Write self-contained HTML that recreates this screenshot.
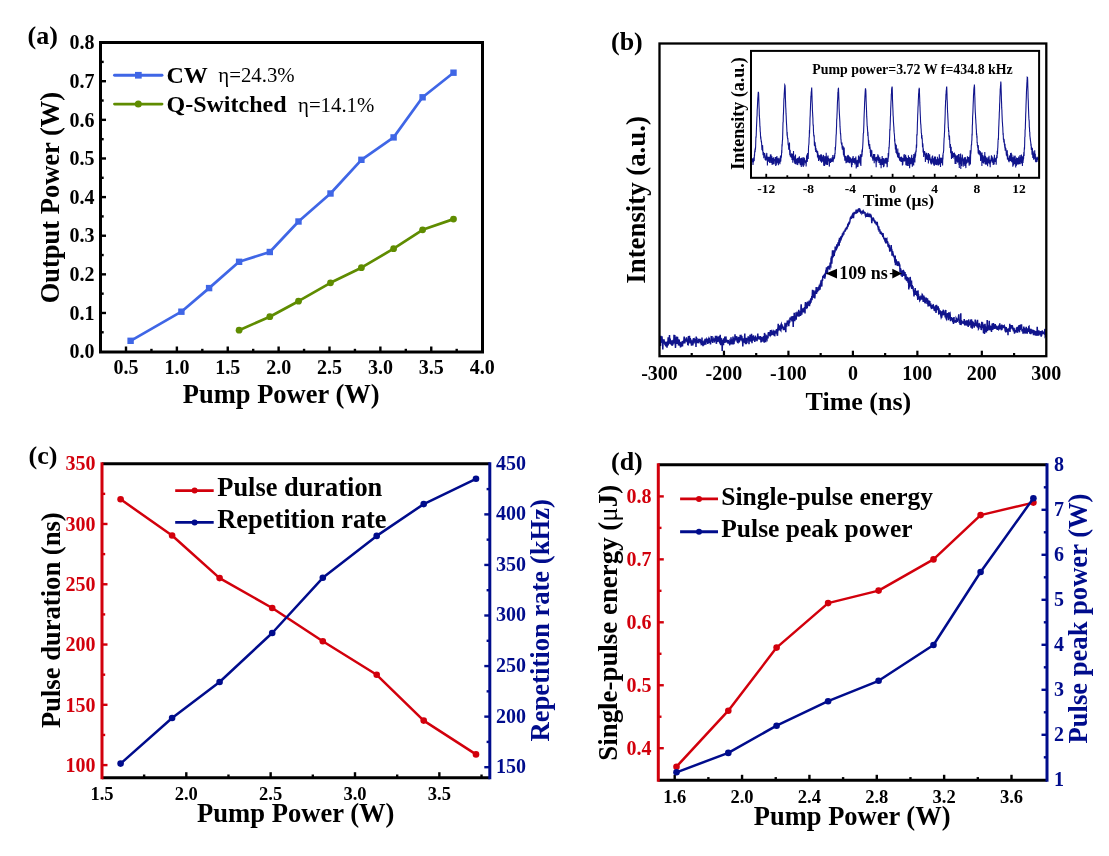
<!DOCTYPE html>
<html><head><meta charset="utf-8"><style>
html,body{margin:0;padding:0;background:#fff;}
body{width:1109px;height:856px;overflow:hidden;}
svg{display:block;font-family:"Liberation Serif", serif;filter:blur(0.45px);}
</style></head><body>
<svg width="1109" height="856" viewBox="0 0 1109 856">
<rect width="1109" height="856" fill="#fff"/>
<line x1="126.0" y1="352.0" x2="126.0" y2="346.5" stroke="#000" stroke-width="2.4"/>
<line x1="151.4375" y1="352.0" x2="151.4375" y2="348.8" stroke="#000" stroke-width="2.4"/>
<line x1="176.875" y1="352.0" x2="176.875" y2="346.5" stroke="#000" stroke-width="2.4"/>
<line x1="202.3125" y1="352.0" x2="202.3125" y2="348.8" stroke="#000" stroke-width="2.4"/>
<line x1="227.75" y1="352.0" x2="227.75" y2="346.5" stroke="#000" stroke-width="2.4"/>
<line x1="253.1875" y1="352.0" x2="253.1875" y2="348.8" stroke="#000" stroke-width="2.4"/>
<line x1="278.625" y1="352.0" x2="278.625" y2="346.5" stroke="#000" stroke-width="2.4"/>
<line x1="304.0625" y1="352.0" x2="304.0625" y2="348.8" stroke="#000" stroke-width="2.4"/>
<line x1="329.5" y1="352.0" x2="329.5" y2="346.5" stroke="#000" stroke-width="2.4"/>
<line x1="354.9375" y1="352.0" x2="354.9375" y2="348.8" stroke="#000" stroke-width="2.4"/>
<line x1="380.375" y1="352.0" x2="380.375" y2="346.5" stroke="#000" stroke-width="2.4"/>
<line x1="405.8125" y1="352.0" x2="405.8125" y2="348.8" stroke="#000" stroke-width="2.4"/>
<line x1="431.25" y1="352.0" x2="431.25" y2="346.5" stroke="#000" stroke-width="2.4"/>
<line x1="456.6875" y1="352.0" x2="456.6875" y2="348.8" stroke="#000" stroke-width="2.4"/>
<line x1="100.5" y1="332.2875" x2="103.7" y2="332.2875" stroke="#000" stroke-width="2.4"/>
<line x1="100.5" y1="312.975" x2="106.0" y2="312.975" stroke="#000" stroke-width="2.4"/>
<line x1="100.5" y1="293.6625" x2="103.7" y2="293.6625" stroke="#000" stroke-width="2.4"/>
<line x1="100.5" y1="274.35" x2="106.0" y2="274.35" stroke="#000" stroke-width="2.4"/>
<line x1="100.5" y1="255.03750000000002" x2="103.7" y2="255.03750000000002" stroke="#000" stroke-width="2.4"/>
<line x1="100.5" y1="235.72500000000002" x2="106.0" y2="235.72500000000002" stroke="#000" stroke-width="2.4"/>
<line x1="100.5" y1="216.41250000000002" x2="103.7" y2="216.41250000000002" stroke="#000" stroke-width="2.4"/>
<line x1="100.5" y1="197.10000000000002" x2="106.0" y2="197.10000000000002" stroke="#000" stroke-width="2.4"/>
<line x1="100.5" y1="177.78750000000002" x2="103.7" y2="177.78750000000002" stroke="#000" stroke-width="2.4"/>
<line x1="100.5" y1="158.47500000000002" x2="106.0" y2="158.47500000000002" stroke="#000" stroke-width="2.4"/>
<line x1="100.5" y1="139.1625" x2="103.7" y2="139.1625" stroke="#000" stroke-width="2.4"/>
<line x1="100.5" y1="119.85" x2="106.0" y2="119.85" stroke="#000" stroke-width="2.4"/>
<line x1="100.5" y1="100.53750000000002" x2="103.7" y2="100.53750000000002" stroke="#000" stroke-width="2.4"/>
<line x1="100.5" y1="81.22500000000002" x2="106.0" y2="81.22500000000002" stroke="#000" stroke-width="2.4"/>
<line x1="100.5" y1="61.91250000000002" x2="103.7" y2="61.91250000000002" stroke="#000" stroke-width="2.4"/>
<rect x="100.5" y="42.5" width="382.0" height="309.5" fill="none" stroke="#000" stroke-width="3"/>
<text x="126.0" y="374.3" font-size="20" font-weight="bold" fill="#000" text-anchor="middle">0.5</text>
<text x="176.875" y="374.3" font-size="20" font-weight="bold" fill="#000" text-anchor="middle">1.0</text>
<text x="227.75" y="374.3" font-size="20" font-weight="bold" fill="#000" text-anchor="middle">1.5</text>
<text x="278.625" y="374.3" font-size="20" font-weight="bold" fill="#000" text-anchor="middle">2.0</text>
<text x="329.5" y="374.3" font-size="20" font-weight="bold" fill="#000" text-anchor="middle">2.5</text>
<text x="380.375" y="374.3" font-size="20" font-weight="bold" fill="#000" text-anchor="middle">3.0</text>
<text x="431.25" y="374.3" font-size="20" font-weight="bold" fill="#000" text-anchor="middle">3.5</text>
<text x="482.125" y="374.3" font-size="20" font-weight="bold" fill="#000" text-anchor="middle">4.0</text>
<text x="94.5" y="358.3" font-size="20" font-weight="bold" fill="#000" text-anchor="end">0.0</text>
<text x="94.5" y="319.675" font-size="20" font-weight="bold" fill="#000" text-anchor="end">0.1</text>
<text x="94.5" y="281.05" font-size="20" font-weight="bold" fill="#000" text-anchor="end">0.2</text>
<text x="94.5" y="242.425" font-size="20" font-weight="bold" fill="#000" text-anchor="end">0.3</text>
<text x="94.5" y="203.8" font-size="20" font-weight="bold" fill="#000" text-anchor="end">0.4</text>
<text x="94.5" y="165.175" font-size="20" font-weight="bold" fill="#000" text-anchor="end">0.5</text>
<text x="94.5" y="126.55" font-size="20" font-weight="bold" fill="#000" text-anchor="end">0.6</text>
<text x="94.5" y="87.92500000000003" font-size="20" font-weight="bold" fill="#000" text-anchor="end">0.7</text>
<text x="94.5" y="49.300000000000026" font-size="20" font-weight="bold" fill="#000" text-anchor="end">0.8</text>
<polyline points="130.6,340.8 181.4,311.7 209.1,288.1 239.1,261.8 269.8,252.0 298.5,221.5 330.5,193.5 361.4,159.8 393.6,137.4 422.6,97.3 453.5,72.7" fill="none" stroke="#3f66e6" stroke-width="2.7" stroke-linejoin="round" stroke-linecap="round"/>
<rect x="127.4" y="337.6" width="6.4" height="6.4" fill="#3f66e6"/>
<rect x="178.2" y="308.5" width="6.4" height="6.4" fill="#3f66e6"/>
<rect x="205.9" y="284.9" width="6.4" height="6.4" fill="#3f66e6"/>
<rect x="235.9" y="258.6" width="6.4" height="6.4" fill="#3f66e6"/>
<rect x="266.6" y="248.8" width="6.4" height="6.4" fill="#3f66e6"/>
<rect x="295.3" y="218.3" width="6.4" height="6.4" fill="#3f66e6"/>
<rect x="327.3" y="190.3" width="6.4" height="6.4" fill="#3f66e6"/>
<rect x="358.2" y="156.6" width="6.4" height="6.4" fill="#3f66e6"/>
<rect x="390.4" y="134.2" width="6.4" height="6.4" fill="#3f66e6"/>
<rect x="419.4" y="94.1" width="6.4" height="6.4" fill="#3f66e6"/>
<rect x="450.3" y="69.5" width="6.4" height="6.4" fill="#3f66e6"/>
<polyline points="239.1,330.2 269.8,316.7 298.5,301.2 330.5,282.8 361.4,267.7 393.6,248.7 422.6,229.8 453.5,219.1" fill="none" stroke="#5f8c00" stroke-width="2.7" stroke-linejoin="round" stroke-linecap="round"/>
<circle cx="239.1" cy="330.2" r="3.4" fill="#5f8c00"/>
<circle cx="269.8" cy="316.7" r="3.4" fill="#5f8c00"/>
<circle cx="298.5" cy="301.2" r="3.4" fill="#5f8c00"/>
<circle cx="330.5" cy="282.8" r="3.4" fill="#5f8c00"/>
<circle cx="361.4" cy="267.7" r="3.4" fill="#5f8c00"/>
<circle cx="393.6" cy="248.7" r="3.4" fill="#5f8c00"/>
<circle cx="422.6" cy="229.8" r="3.4" fill="#5f8c00"/>
<circle cx="453.5" cy="219.1" r="3.4" fill="#5f8c00"/>
<line x1="114.5" y1="75.2" x2="162.0" y2="75.2" stroke="#3f66e6" stroke-width="2.9" stroke-linecap="round"/>
<rect x="135.0" y="71.9" width="6.7" height="6.7" fill="#3f66e6"/>
<line x1="114.5" y1="104.1" x2="162.0" y2="104.1" stroke="#5f8c00" stroke-width="2.9" stroke-linecap="round"/>
<circle cx="138.3" cy="104.1" r="3.5" fill="#5f8c00"/>
<text x="166.5" y="82.5" font-size="24" font-weight="bold" fill="#000" text-anchor="start">CW</text>
<text x="218.3" y="82.4" font-size="20.8" font-weight="normal" fill="#000" text-anchor="start">η=24.3%</text>
<text x="166.5" y="111.5" font-size="24" font-weight="bold" fill="#000" text-anchor="start">Q-Switched</text>
<text x="298.0" y="111.6" font-size="20.8" font-weight="normal" fill="#000" text-anchor="start">η=14.1%</text>
<text x="281.2" y="402.6" font-size="26.5" font-weight="bold" fill="#000" text-anchor="middle">Pump Power (W)</text>
<text x="59.5" y="197.6" font-size="26.5" font-weight="bold" fill="#000" text-anchor="middle" transform="rotate(-90 59.5 197.6)">Output Power (W)</text>
<text x="27.5" y="44.0" font-size="26" font-weight="bold" fill="#000" text-anchor="start">(a)</text>
<line x1="691.7249999999999" y1="356.2" x2="691.7249999999999" y2="353.0" stroke="#000" stroke-width="2.2"/>
<line x1="723.96" y1="356.2" x2="723.96" y2="350.7" stroke="#000" stroke-width="2.2"/>
<line x1="756.1949999999999" y1="356.2" x2="756.1949999999999" y2="353.0" stroke="#000" stroke-width="2.2"/>
<line x1="788.43" y1="356.2" x2="788.43" y2="350.7" stroke="#000" stroke-width="2.2"/>
<line x1="820.665" y1="356.2" x2="820.665" y2="353.0" stroke="#000" stroke-width="2.2"/>
<line x1="852.9" y1="356.2" x2="852.9" y2="350.7" stroke="#000" stroke-width="2.2"/>
<line x1="885.135" y1="356.2" x2="885.135" y2="353.0" stroke="#000" stroke-width="2.2"/>
<line x1="917.37" y1="356.2" x2="917.37" y2="350.7" stroke="#000" stroke-width="2.2"/>
<line x1="949.605" y1="356.2" x2="949.605" y2="353.0" stroke="#000" stroke-width="2.2"/>
<line x1="981.8399999999999" y1="356.2" x2="981.8399999999999" y2="350.7" stroke="#000" stroke-width="2.2"/>
<line x1="1014.075" y1="356.2" x2="1014.075" y2="353.0" stroke="#000" stroke-width="2.2"/>
<path d="M660.5,346.1L660.8,335.8L661.0,342.9L661.2,340.3L661.5,340.5L661.8,340.6L662.0,336.4L662.2,341.3L662.5,340.1L662.8,349.6L663.0,342.3L663.2,341.0L663.5,341.6L663.8,340.3L664.0,339.3L664.2,341.3L664.5,343.5L664.8,342.4L665.0,345.2L665.2,342.4L665.5,342.7L665.8,346.4L666.0,344.0L666.2,342.0L666.5,342.7L666.8,344.6L667.0,347.6L667.2,341.9L667.5,341.8L667.8,344.7L668.0,340.2L668.2,337.3L668.5,343.9L668.8,343.4L669.0,342.4L669.2,343.4L669.5,335.1L669.8,343.6L670.0,340.0L670.2,338.6L670.5,343.3L670.8,344.2L671.0,341.3L671.2,340.3L671.5,342.9L671.8,342.4L672.0,345.8L672.2,344.2L672.5,343.2L672.8,345.1L673.0,341.2L673.2,339.8L673.5,343.0L673.8,342.6L674.0,334.7L674.2,339.4L674.5,341.3L674.8,334.9L675.0,342.2L675.2,341.9L675.5,347.9L675.8,341.0L676.0,338.8L676.2,339.9L676.5,336.6L676.8,339.0L677.0,343.1L677.2,343.6L677.5,336.7L677.8,340.7L678.0,342.6L678.2,340.5L678.5,345.4L678.8,339.3L679.0,342.8L679.2,339.9L679.5,345.6L679.8,342.8L680.0,342.4L680.2,341.8L680.5,347.4L680.8,345.2L681.0,345.5L681.2,346.6L681.5,345.2L681.8,342.6L682.0,342.0L682.2,341.3L682.5,346.5L682.8,341.8L683.0,341.4L683.2,341.2L683.5,342.7L683.8,343.5L684.0,338.2L684.2,336.6L684.5,340.3L684.8,343.5L685.0,342.0L685.2,340.6L685.5,339.1L685.8,340.2L686.0,338.7L686.2,341.4L686.5,337.4L686.8,339.4L687.0,342.2L687.2,340.9L687.5,340.1L687.8,345.1L688.0,343.5L688.2,343.8L688.5,336.0L688.8,339.9L689.0,339.3L689.2,342.4L689.5,335.9L689.8,340.4L690.0,343.5L690.2,338.1L690.5,339.4L690.8,339.8L691.0,341.6L691.2,342.7L691.5,345.7L691.8,340.3L692.0,342.3L692.2,340.6L692.5,343.9L692.8,345.4L693.0,343.8L693.2,338.6L693.5,339.8L693.8,338.2L694.0,343.5L694.2,341.6L694.5,339.4L694.8,339.9L695.0,342.1L695.2,339.5L695.5,339.4L695.8,342.5L696.0,347.0L696.2,336.5L696.5,339.9L696.8,338.9L697.0,338.8L697.2,341.4L697.5,343.2L697.8,341.1L698.0,342.3L698.2,341.6L698.5,342.0L698.8,338.7L699.0,340.6L699.2,342.2L699.5,340.3L699.8,340.7L700.0,339.0L700.2,340.5L700.5,343.4L700.8,340.8L701.0,341.2L701.2,343.4L701.5,342.9L701.8,345.2L702.0,337.4L702.2,344.1L702.5,341.1L702.8,342.6L703.0,346.1L703.2,344.6L703.5,344.6L703.8,341.9L704.0,345.3L704.2,340.8L704.5,340.7L704.8,342.4L705.0,338.7L705.2,344.7L705.5,341.7L705.8,344.7L706.0,339.8L706.2,339.3L706.5,340.7L706.8,342.2L707.0,338.6L707.2,342.5L707.5,340.2L707.8,344.0L708.0,339.0L708.2,343.2L708.5,339.3L708.8,338.5L709.0,339.2L709.2,337.9L709.5,340.5L709.8,342.8L710.0,341.0L710.2,342.2L710.5,344.4L710.8,341.4L711.0,341.2L711.2,336.7L711.5,336.8L711.8,341.7L712.0,336.0L712.2,341.6L712.5,340.3L712.8,343.0L713.0,340.5L713.2,338.7L713.5,340.8L713.8,339.2L714.0,339.8L714.2,340.5L714.5,341.2L714.8,340.3L715.0,338.3L715.2,340.3L715.5,335.9L715.8,340.1L716.0,338.0L716.2,342.9L716.5,343.6L716.8,335.9L717.0,340.9L717.2,340.4L717.5,338.6L717.8,341.9L718.0,340.1L718.2,336.7L718.5,340.0L718.8,340.8L719.0,340.9L719.2,336.0L719.5,342.1L719.8,342.7L720.0,339.0L720.2,334.9L720.5,340.9L720.8,341.1L721.0,345.2L721.2,341.8L721.5,338.9L721.8,339.1L722.0,341.0L722.2,350.9L722.5,341.2L722.8,341.2L723.0,341.2L723.2,340.1L723.5,345.1L723.8,338.3L724.0,341.1L724.2,340.0L724.5,340.9L724.8,336.5L725.0,342.9L725.2,338.7L725.5,338.7L725.8,336.6L726.0,337.2L726.2,340.2L726.5,341.4L726.8,341.1L727.0,342.5L727.2,340.7L727.5,339.8L727.8,342.1L728.0,341.8L728.2,340.2L728.5,342.4L728.8,343.6L729.0,341.6L729.2,340.8L729.5,343.1L729.8,345.3L730.0,340.8L730.2,341.1L730.5,341.1L730.8,344.1L731.0,337.3L731.2,342.2L731.5,343.9L731.8,339.3L732.0,344.4L732.2,341.6L732.5,339.4L732.8,341.1L733.0,336.6L733.2,339.3L733.5,344.4L733.8,338.0L734.0,343.9L734.2,339.3L734.5,341.7L734.8,339.6L735.0,334.3L735.2,338.4L735.5,339.8L735.8,336.8L736.0,336.8L736.2,340.3L736.5,338.0L736.8,336.2L737.0,338.4L737.2,342.1L737.5,339.3L737.8,342.4L738.0,342.5L738.2,340.4L738.5,337.8L738.8,337.1L739.0,339.9L739.2,342.2L739.5,341.0L739.8,340.7L740.0,338.9L740.2,334.8L740.5,338.9L740.8,339.7L741.0,337.2L741.2,336.8L741.5,340.5L741.8,338.0L742.0,337.7L742.2,341.5L742.5,339.7L742.8,346.5L743.0,341.8L743.2,338.4L743.5,341.8L743.8,340.8L744.0,338.6L744.2,342.6L744.5,338.5L744.8,333.5L745.0,343.0L745.2,339.6L745.5,344.3L745.8,339.4L746.0,337.7L746.2,344.1L746.5,337.9L746.8,340.7L747.0,343.3L747.2,339.9L747.5,339.7L747.8,339.2L748.0,340.4L748.2,336.2L748.5,339.5L748.8,340.2L749.0,344.2L749.2,338.0L749.5,337.0L749.8,340.3L750.0,334.9L750.2,339.5L750.5,339.0L750.8,341.5L751.0,337.4L751.2,341.7L751.5,333.8L751.8,337.1L752.0,343.1L752.2,337.6L752.5,337.2L752.8,340.6L753.0,340.1L753.2,338.9L753.5,335.2L753.8,339.7L754.0,338.9L754.2,339.8L754.5,336.7L754.8,341.9L755.0,339.0L755.2,337.8L755.5,336.9L755.8,337.5L756.0,339.8L756.2,337.5L756.5,340.8L756.8,339.6L757.0,341.1L757.2,339.5L757.5,337.3L757.8,333.6L758.0,337.9L758.2,336.6L758.5,338.1L758.8,339.3L759.0,337.2L759.2,337.3L759.5,336.4L759.8,338.8L760.0,339.4L760.2,337.8L760.5,336.2L760.8,338.1L761.0,342.4L761.2,339.7L761.5,337.0L761.8,341.7L762.0,341.2L762.2,340.4L762.5,339.3L762.8,340.2L763.0,338.9L763.2,339.6L763.5,336.0L763.8,341.6L764.0,338.3L764.2,342.7L764.5,332.9L764.8,338.8L765.0,339.4L765.2,336.3L765.5,338.2L765.8,342.1L766.0,338.5L766.2,335.8L766.5,336.3L766.8,338.8L767.0,339.2L767.2,336.2L767.5,336.2L767.8,336.5L768.0,338.4L768.2,333.3L768.5,332.3L768.8,335.3L769.0,332.1L769.2,333.3L769.5,334.9L769.8,335.3L770.0,331.9L770.2,336.3L770.5,330.0L770.8,335.2L771.0,330.4L771.2,331.1L771.5,335.3L771.8,332.9L772.0,331.9L772.2,332.5L772.5,334.6L772.8,333.4L773.0,332.9L773.2,335.0L773.5,331.3L773.8,331.8L774.0,331.6L774.2,335.4L774.5,335.5L774.8,335.6L775.0,332.3L775.2,332.0L775.5,333.8L775.8,330.7L776.0,333.6L776.2,333.0L776.5,329.1L776.8,330.0L777.0,329.8L777.2,334.9L777.5,335.7L777.8,329.3L778.0,329.5L778.2,323.8L778.5,329.6L778.8,328.8L779.0,326.4L779.2,330.5L779.5,325.2L779.8,328.3L780.0,329.0L780.2,325.3L780.5,330.1L780.8,330.5L781.0,324.6L781.2,324.2L781.5,329.0L781.8,327.5L782.0,324.2L782.2,326.8L782.5,326.3L782.8,326.4L783.0,327.9L783.2,327.2L783.5,330.1L783.8,329.3L784.0,327.7L784.2,328.3L784.5,328.7L784.8,327.5L785.0,322.7L785.2,327.4L785.5,324.7L785.8,332.2L786.0,324.2L786.2,324.8L786.5,324.1L786.8,326.6L787.0,323.0L787.2,322.0L787.5,322.5L787.8,320.7L788.0,322.3L788.2,321.7L788.5,322.9L788.8,326.3L789.0,320.8L789.2,323.3L789.5,320.7L789.8,322.5L790.0,317.5L790.2,318.7L790.5,320.0L790.8,318.2L791.0,319.0L791.2,317.6L791.5,316.3L791.8,319.4L792.0,321.5L792.2,318.9L792.5,318.2L792.8,319.2L793.0,316.1L793.2,326.9L793.5,317.4L793.8,318.7L794.0,321.2L794.2,312.8L794.5,320.6L794.8,320.6L795.0,316.7L795.2,318.0L795.5,317.2L795.8,317.8L796.0,312.3L796.2,319.7L796.5,314.4L796.8,315.6L797.0,314.8L797.2,313.5L797.5,314.3L797.8,316.5L798.0,312.7L798.2,313.3L798.5,312.6L798.8,309.8L799.0,316.8L799.2,314.7L799.5,313.7L799.8,315.8L800.0,311.3L800.2,312.6L800.5,316.0L800.8,314.1L801.0,306.6L801.2,304.4L801.5,310.2L801.8,314.8L802.0,310.8L802.2,310.8L802.5,312.0L802.8,308.4L803.0,310.8L803.2,312.3L803.5,310.9L803.8,310.2L804.0,308.0L804.2,310.1L804.5,307.2L804.8,310.7L805.0,313.5L805.2,305.6L805.5,302.1L805.8,305.3L806.0,306.3L806.2,307.6L806.5,307.9L806.8,303.6L807.0,302.9L807.2,308.1L807.5,301.5L807.8,306.2L808.0,302.9L808.2,304.7L808.5,304.6L808.8,304.6L809.0,302.9L809.2,300.5L809.5,306.2L809.8,302.0L810.0,304.1L810.2,303.5L810.5,299.8L810.8,298.6L811.0,302.8L811.2,298.1L811.5,299.8L811.8,296.1L812.0,300.2L812.2,297.7L812.5,289.9L812.8,292.7L813.0,296.4L813.2,296.6L813.5,290.4L813.8,296.4L814.0,297.8L814.2,294.3L814.5,294.4L814.8,298.5L815.0,295.5L815.2,290.5L815.5,292.4L815.8,292.1L816.0,291.7L816.2,287.0L816.5,294.0L816.8,290.6L817.0,291.4L817.2,290.5L817.5,292.2L817.8,289.0L818.0,287.1L818.2,289.5L818.5,290.7L818.8,286.5L819.0,290.1L819.2,287.0L819.5,284.7L819.8,288.7L820.0,289.6L820.2,286.9L820.5,282.7L820.8,284.5L821.0,280.3L821.2,281.0L821.5,284.9L821.8,286.5L822.0,281.1L822.2,279.4L822.5,280.9L822.8,276.5L823.0,276.3L823.2,278.0L823.5,276.2L823.8,275.7L824.0,276.4L824.2,275.3L824.5,274.8L824.8,278.6L825.0,276.5L825.2,276.3L825.5,273.0L825.8,271.6L826.0,269.8L826.2,271.8L826.5,267.4L826.8,270.1L827.0,272.8L827.2,274.1L827.5,271.6L827.8,266.3L828.0,269.4L828.2,266.5L828.5,269.1L828.8,266.1L829.0,267.6L829.2,265.6L829.5,266.3L829.8,269.6L830.0,265.2L830.2,262.6L830.5,265.5L830.8,266.0L831.0,260.1L831.2,260.4L831.5,256.3L831.8,263.6L832.0,260.0L832.2,257.3L832.5,250.3L832.8,252.9L833.0,256.1L833.2,256.5L833.5,256.0L833.8,254.4L834.0,250.3L834.2,255.9L834.5,252.1L834.8,251.6L835.0,252.5L835.2,246.5L835.5,250.0L835.8,249.2L836.0,249.4L836.2,250.3L836.5,248.2L836.8,244.2L837.0,246.7L837.2,247.2L837.5,246.4L837.8,246.1L838.0,242.2L838.2,245.1L838.5,243.9L838.8,243.0L839.0,239.9L839.2,245.7L839.5,237.8L839.8,240.5L840.0,242.6L840.2,239.5L840.5,239.5L840.8,236.8L841.0,240.4L841.2,236.0L841.5,238.0L841.8,237.4L842.0,235.2L842.2,237.0L842.5,233.3L842.8,234.3L843.0,234.6L843.2,233.5L843.5,234.0L843.8,234.0L844.0,231.9L844.2,231.2L844.5,231.0L844.8,230.8L845.0,231.7L845.2,230.1L845.5,230.4L845.8,229.4L846.0,228.1L846.2,229.6L846.5,227.0L846.8,228.0L847.0,229.3L847.2,226.2L847.5,227.0L847.8,224.2L848.0,224.7L848.2,223.3L848.5,224.2L848.8,223.0L849.0,223.3L849.2,224.5L849.5,222.7L849.8,222.1L850.0,220.5L850.2,219.0L850.5,217.7L850.8,216.6L851.0,218.1L851.2,219.0L851.5,216.5L851.8,216.6L852.0,218.2L852.2,215.5L852.5,214.6L852.8,213.8L853.0,213.5L853.2,214.8L853.5,218.1L853.8,214.3L854.0,213.4L854.2,213.4L854.5,213.5L854.8,211.9L855.0,212.7L855.2,213.1L855.5,212.8L855.8,212.9L856.0,210.9L856.2,209.7L856.5,212.9L856.8,212.7L857.0,209.5L857.2,211.4L857.5,210.9L857.8,211.5L858.0,210.9L858.2,210.2L858.5,211.0L858.8,210.9L859.0,211.0L859.2,209.4L859.5,208.3L859.8,210.6L860.0,209.4L860.2,211.1L860.5,212.2L860.8,211.6L861.0,211.4L861.2,211.6L861.5,213.1L861.8,211.5L862.0,213.3L862.2,213.0L862.5,212.2L862.8,213.7L863.0,211.8L863.2,213.3L863.5,211.5L863.8,212.1L864.0,211.6L864.2,213.4L864.5,211.9L864.8,212.9L865.0,212.0L865.2,214.8L865.5,215.6L865.8,213.7L866.0,215.7L866.2,215.4L866.5,216.8L866.8,215.5L867.0,213.3L867.2,216.8L867.5,214.7L867.8,214.0L868.0,214.7L868.2,213.9L868.5,215.6L868.8,214.3L869.0,217.0L869.2,216.4L869.5,214.4L869.8,214.6L870.0,215.7L870.2,214.3L870.5,216.6L870.8,216.5L871.0,215.5L871.2,216.0L871.5,217.6L871.8,223.3L872.0,219.7L872.2,218.0L872.5,219.1L872.8,217.7L873.0,219.2L873.2,218.3L873.5,220.6L873.8,219.4L874.0,220.0L874.2,221.1L874.5,221.7L874.8,220.3L875.0,221.2L875.2,222.4L875.5,222.8L875.8,221.6L876.0,223.2L876.2,223.1L876.5,225.2L876.8,224.2L877.0,222.7L877.2,221.9L877.5,225.1L877.8,226.5L878.0,226.5L878.2,228.0L878.5,227.4L878.8,227.3L879.0,230.1L879.2,229.8L879.5,230.9L879.8,229.4L880.0,231.8L880.2,233.3L880.5,233.4L880.8,232.3L881.0,232.1L881.2,232.4L881.5,234.7L881.8,233.4L882.0,232.7L882.2,235.2L882.5,233.5L882.8,237.0L883.0,233.1L883.2,234.8L883.5,237.4L883.8,238.5L884.0,237.6L884.2,239.1L884.5,239.3L884.8,240.5L885.0,239.5L885.2,242.1L885.5,237.9L885.8,243.4L886.0,239.6L886.2,243.0L886.5,239.4L886.8,239.0L887.0,242.7L887.2,241.0L887.5,243.7L887.8,241.6L888.0,246.8L888.2,244.6L888.5,245.9L888.8,245.4L889.0,247.4L889.2,245.0L889.5,248.5L889.8,251.6L890.0,250.4L890.2,249.3L890.5,248.8L890.8,251.2L891.0,247.6L891.2,245.0L891.5,250.1L891.8,250.0L892.0,255.7L892.2,253.4L892.5,251.6L892.8,251.9L893.0,255.3L893.2,253.6L893.5,256.6L893.8,255.6L894.0,256.6L894.2,257.3L894.5,257.9L894.8,260.9L895.0,262.6L895.2,255.6L895.5,265.3L895.8,260.4L896.0,263.8L896.2,259.2L896.5,262.8L896.8,262.8L897.0,263.2L897.2,265.1L897.5,265.2L897.8,261.4L898.0,263.8L898.2,265.7L898.5,261.3L898.8,264.3L899.0,265.1L899.2,266.1L899.5,264.4L899.8,265.2L900.0,272.3L900.2,268.2L900.5,269.8L900.8,268.6L901.0,273.9L901.2,275.7L901.5,271.3L901.8,273.2L902.0,270.6L902.2,276.9L902.5,271.0L902.8,270.9L903.0,275.8L903.2,274.2L903.5,273.8L903.8,274.2L904.0,271.8L904.2,272.2L904.5,275.5L904.8,274.3L905.0,272.1L905.2,279.5L905.5,274.9L905.8,274.7L906.0,274.8L906.2,278.9L906.5,280.7L906.8,278.8L907.0,281.3L907.2,276.7L907.5,280.0L907.8,279.9L908.0,281.8L908.2,283.0L908.5,277.4L908.8,289.4L909.0,280.9L909.2,283.6L909.5,285.0L909.8,285.7L910.0,284.4L910.2,276.9L910.5,281.4L910.8,286.4L911.0,283.0L911.2,282.9L911.5,280.5L911.8,288.9L912.0,288.2L912.2,285.2L912.5,287.5L912.8,288.2L913.0,286.4L913.2,288.9L913.5,290.8L913.8,292.3L914.0,296.5L914.2,293.4L914.5,290.4L914.8,292.7L915.0,290.7L915.2,288.1L915.5,294.9L915.8,291.5L916.0,292.6L916.2,294.4L916.5,290.8L916.8,295.0L917.0,294.9L917.2,294.1L917.5,295.9L917.8,299.9L918.0,290.4L918.2,295.3L918.5,294.1L918.8,298.9L919.0,298.4L919.2,296.5L919.5,297.5L919.8,300.6L920.0,300.3L920.2,299.0L920.5,298.7L920.8,297.0L921.0,297.3L921.2,299.5L921.5,298.3L921.8,299.3L922.0,295.7L922.2,294.6L922.5,295.1L922.8,298.3L923.0,298.1L923.2,302.0L923.5,297.1L923.8,295.6L924.0,301.2L924.2,300.5L924.5,296.7L924.8,302.6L925.0,300.6L925.2,303.4L925.5,300.9L925.8,302.0L926.0,300.3L926.2,297.6L926.5,300.1L926.8,299.2L927.0,303.2L927.2,303.2L927.5,298.3L927.8,303.4L928.0,304.9L928.2,305.8L928.5,305.6L928.8,300.4L929.0,303.2L929.2,304.0L929.5,305.2L929.8,301.0L930.0,305.6L930.2,306.1L930.5,303.5L930.8,305.7L931.0,305.2L931.2,306.0L931.5,308.2L931.8,308.0L932.0,306.4L932.2,307.0L932.5,305.0L932.8,308.7L933.0,304.9L933.2,304.8L933.5,308.4L933.8,306.2L934.0,308.8L934.2,310.7L934.5,308.5L934.8,308.7L935.0,311.1L935.2,310.1L935.5,305.4L935.8,306.1L936.0,312.9L936.2,310.9L936.5,304.9L936.8,306.3L937.0,309.5L937.2,306.7L937.5,310.2L937.8,308.4L938.0,310.0L938.2,306.4L938.5,309.8L938.8,314.4L939.0,308.4L939.2,313.6L939.5,313.3L939.8,313.3L940.0,312.3L940.2,310.5L940.5,311.4L940.8,315.4L941.0,316.4L941.2,317.4L941.5,316.7L941.8,316.8L942.0,313.3L942.2,311.1L942.5,314.4L942.8,314.5L943.0,313.3L943.2,309.7L943.5,312.1L943.8,310.3L944.0,313.9L944.2,315.1L944.5,312.9L944.8,314.1L945.0,314.3L945.2,317.4L945.5,312.1L945.8,309.9L946.0,317.5L946.2,318.8L946.5,319.3L946.8,316.6L947.0,317.3L947.2,316.3L947.5,313.0L947.8,314.8L948.0,316.9L948.2,314.4L948.5,320.3L948.8,312.4L949.0,315.2L949.2,318.6L949.5,314.8L949.8,313.6L950.0,313.3L950.2,315.0L950.5,321.2L950.8,318.5L951.0,319.2L951.2,317.1L951.5,320.4L951.8,317.5L952.0,319.3L952.2,317.8L952.5,319.7L952.8,322.2L953.0,319.4L953.2,320.8L953.5,324.0L953.8,318.2L954.0,317.1L954.2,322.6L954.5,321.6L954.8,320.3L955.0,321.9L955.2,320.5L955.5,322.2L955.8,320.2L956.0,322.9L956.2,318.5L956.5,319.1L956.8,321.0L957.0,319.8L957.2,322.0L957.5,320.1L957.8,319.3L958.0,320.5L958.2,319.1L958.5,317.0L958.8,314.4L959.0,318.8L959.2,321.5L959.5,321.2L959.8,323.3L960.0,322.3L960.2,324.9L960.5,323.7L960.8,313.2L961.0,325.1L961.2,323.8L961.5,320.2L961.8,322.0L962.0,323.5L962.2,321.5L962.5,323.6L962.8,322.1L963.0,323.4L963.2,322.0L963.5,322.1L963.8,321.5L964.0,324.1L964.2,319.0L964.5,323.3L964.8,325.5L965.0,324.8L965.2,323.3L965.5,325.0L965.8,321.4L966.0,321.2L966.2,321.9L966.5,322.8L966.8,325.3L967.0,321.4L967.2,325.7L967.5,320.4L967.8,322.9L968.0,324.3L968.2,326.9L968.5,322.2L968.8,319.4L969.0,325.5L969.2,325.1L969.5,322.5L969.8,322.3L970.0,322.6L970.2,323.9L970.5,324.9L970.8,319.5L971.0,327.7L971.2,323.2L971.5,319.4L971.8,325.1L972.0,323.7L972.2,328.6L972.5,325.6L972.8,322.5L973.0,322.8L973.2,322.6L973.5,323.3L973.8,325.9L974.0,323.4L974.2,327.8L974.5,323.1L974.8,324.0L975.0,326.3L975.2,319.5L975.5,322.0L975.8,325.2L976.0,324.1L976.2,324.7L976.5,325.3L976.8,323.1L977.0,324.0L977.2,321.8L977.5,319.9L977.8,327.8L978.0,323.7L978.2,323.2L978.5,328.8L978.8,328.3L979.0,324.3L979.2,324.1L979.5,325.7L979.8,323.8L980.0,327.0L980.2,326.2L980.5,326.5L980.8,327.4L981.0,327.8L981.2,330.0L981.5,329.0L981.8,321.7L982.0,328.0L982.2,323.2L982.5,322.3L982.8,327.5L983.0,324.8L983.2,325.6L983.5,333.3L983.8,325.6L984.0,325.4L984.2,328.5L984.5,333.9L984.8,328.8L985.0,323.9L985.2,326.2L985.5,327.5L985.8,332.5L986.0,329.8L986.2,330.1L986.5,330.6L986.8,326.5L987.0,327.6L987.2,320.0L987.5,330.9L987.8,327.2L988.0,328.8L988.2,325.3L988.5,328.8L988.8,328.3L989.0,329.0L989.2,320.8L989.5,327.2L989.8,330.3L990.0,328.8L990.2,325.5L990.5,327.4L990.8,329.8L991.0,326.0L991.2,326.8L991.5,332.0L991.8,326.2L992.0,326.0L992.2,323.6L992.5,324.8L992.8,329.9L993.0,326.4L993.2,323.8L993.5,323.8L993.8,326.5L994.0,328.7L994.2,325.3L994.5,329.0L994.8,326.1L995.0,327.8L995.2,324.1L995.5,328.0L995.8,326.0L996.0,326.9L996.2,328.9L996.5,325.5L996.8,328.2L997.0,328.7L997.2,330.0L997.5,327.5L997.8,327.2L998.0,328.5L998.2,326.3L998.5,327.6L998.8,329.2L999.0,328.9L999.2,324.7L999.5,327.0L999.8,323.3L1000.0,329.2L1000.2,326.9L1000.5,328.8L1000.8,325.3L1001.0,327.8L1001.2,329.0L1001.5,330.2L1001.8,324.6L1002.0,329.7L1002.2,327.2L1002.5,325.3L1002.8,328.2L1003.0,326.8L1003.2,326.4L1003.5,325.3L1003.8,328.2L1004.0,327.3L1004.2,328.0L1004.5,326.3L1004.8,327.0L1005.0,329.2L1005.2,331.5L1005.5,329.4L1005.8,332.5L1006.0,329.9L1006.2,327.0L1006.5,331.1L1006.8,330.0L1007.0,331.0L1007.2,331.9L1007.5,328.6L1007.8,329.6L1008.0,335.3L1008.2,329.0L1008.5,330.0L1008.8,331.1L1009.0,328.8L1009.2,328.9L1009.5,330.3L1009.8,323.7L1010.0,332.1L1010.2,325.9L1010.5,325.9L1010.8,329.1L1011.0,328.2L1011.2,325.1L1011.5,328.2L1011.8,325.6L1012.0,326.5L1012.2,325.3L1012.5,326.3L1012.8,328.7L1013.0,328.6L1013.2,329.5L1013.5,331.3L1013.8,329.5L1014.0,327.9L1014.2,329.0L1014.5,333.7L1014.8,330.1L1015.0,331.4L1015.2,330.1L1015.5,331.3L1015.8,331.6L1016.0,330.3L1016.2,330.0L1016.5,328.2L1016.8,327.9L1017.0,330.8L1017.2,331.7L1017.5,331.9L1017.8,329.2L1018.0,327.1L1018.2,330.4L1018.5,330.0L1018.8,325.2L1019.0,330.5L1019.2,329.5L1019.5,332.3L1019.8,325.9L1020.0,325.3L1020.2,330.0L1020.5,324.6L1020.8,327.5L1021.0,326.4L1021.2,326.4L1021.5,324.3L1021.8,328.8L1022.0,331.4L1022.2,330.6L1022.5,330.6L1022.8,329.1L1023.0,333.6L1023.2,331.6L1023.5,332.4L1023.8,326.5L1024.0,331.2L1024.2,327.9L1024.5,331.7L1024.8,331.1L1025.0,328.2L1025.2,331.4L1025.5,333.5L1025.8,332.0L1026.0,332.7L1026.2,326.8L1026.5,329.6L1026.8,328.5L1027.0,331.5L1027.2,333.6L1027.5,331.7L1027.8,331.0L1028.0,328.3L1028.2,331.8L1028.5,330.5L1028.8,326.7L1029.0,326.5L1029.2,329.8L1029.5,328.5L1029.8,333.7L1030.0,330.7L1030.2,328.9L1030.5,329.8L1030.8,334.2L1031.0,328.9L1031.2,332.6L1031.5,330.9L1031.8,333.3L1032.0,331.5L1032.2,329.5L1032.5,331.8L1032.8,331.0L1033.0,332.6L1033.2,329.9L1033.5,335.3L1033.8,331.5L1034.0,332.5L1034.2,330.3L1034.5,333.1L1034.8,333.1L1035.0,333.5L1035.2,335.5L1035.5,331.8L1035.8,331.0L1036.0,335.8L1036.2,333.0L1036.5,332.2L1036.8,335.7L1037.0,335.0L1037.2,326.8L1037.5,331.8L1037.8,333.9L1038.0,333.8L1038.2,330.4L1038.5,335.8L1038.8,330.3L1039.0,331.5L1039.2,332.2L1039.5,332.2L1039.8,333.8L1040.0,334.6L1040.2,332.4L1040.5,335.4L1040.8,331.0L1041.0,331.9L1041.2,336.8L1041.5,333.1L1041.8,335.5L1042.0,332.0L1042.2,330.5L1042.5,332.2L1042.8,333.4L1043.0,331.5L1043.2,332.7L1043.5,333.9L1043.8,331.5L1044.0,332.7L1044.2,333.8L1044.5,334.5L1044.8,329.8L1045.0,329.0L1045.2,336.2L1045.5,335.7L1045.8,332.5" fill="none" stroke="#10148c" stroke-width="1.5"/>
<rect x="659.5" y="43.5" width="386.79999999999995" height="312.7" fill="none" stroke="#000" stroke-width="2.3"/>
<text x="659.49" y="380.3" font-size="20" font-weight="bold" fill="#000" text-anchor="middle">-300</text>
<text x="723.96" y="380.3" font-size="20" font-weight="bold" fill="#000" text-anchor="middle">-200</text>
<text x="788.43" y="380.3" font-size="20" font-weight="bold" fill="#000" text-anchor="middle">-100</text>
<text x="852.9" y="380.3" font-size="20" font-weight="bold" fill="#000" text-anchor="middle">0</text>
<text x="917.37" y="380.3" font-size="20" font-weight="bold" fill="#000" text-anchor="middle">100</text>
<text x="981.8399999999999" y="380.3" font-size="20" font-weight="bold" fill="#000" text-anchor="middle">200</text>
<text x="1046.31" y="380.3" font-size="20" font-weight="bold" fill="#000" text-anchor="middle">300</text>
<text x="858.4" y="409.5" font-size="26" font-weight="bold" fill="#000" text-anchor="middle">Time (ns)</text>
<text x="645.0" y="199.9" font-size="26.8" font-weight="bold" fill="#000" text-anchor="middle" transform="rotate(-90 645.0 199.9)">Intensity (a.u.)</text>
<text x="611.0" y="50.0" font-size="26" font-weight="bold" fill="#000" text-anchor="start">(b)</text>
<path d="M825.8,273.6 L837,268.8 L837,278.4 Z" fill="#000"/>
<path d="M902.0,273.6 L892.3,268.8 L892.3,278.4 Z" fill="#000"/>
<line x1="889.8" y1="273.6" x2="893" y2="273.6" stroke="#000" stroke-width="1.2"/>
<text x="863.5" y="279.0" font-size="18" font-weight="bold" fill="#000" text-anchor="middle">109 ns</text>
<line x1="766.24" y1="177.8" x2="766.24" y2="173.8" stroke="#000" stroke-width="1.8"/>
<line x1="787.3000000000001" y1="177.8" x2="787.3000000000001" y2="175.3" stroke="#000" stroke-width="1.8"/>
<line x1="808.36" y1="177.8" x2="808.36" y2="173.8" stroke="#000" stroke-width="1.8"/>
<line x1="829.4200000000001" y1="177.8" x2="829.4200000000001" y2="175.3" stroke="#000" stroke-width="1.8"/>
<line x1="850.48" y1="177.8" x2="850.48" y2="173.8" stroke="#000" stroke-width="1.8"/>
<line x1="871.5400000000001" y1="177.8" x2="871.5400000000001" y2="175.3" stroke="#000" stroke-width="1.8"/>
<line x1="892.6" y1="177.8" x2="892.6" y2="173.8" stroke="#000" stroke-width="1.8"/>
<line x1="913.66" y1="177.8" x2="913.66" y2="175.3" stroke="#000" stroke-width="1.8"/>
<line x1="934.72" y1="177.8" x2="934.72" y2="173.8" stroke="#000" stroke-width="1.8"/>
<line x1="955.78" y1="177.8" x2="955.78" y2="175.3" stroke="#000" stroke-width="1.8"/>
<line x1="976.84" y1="177.8" x2="976.84" y2="173.8" stroke="#000" stroke-width="1.8"/>
<line x1="997.9" y1="177.8" x2="997.9" y2="175.3" stroke="#000" stroke-width="1.8"/>
<line x1="1018.96" y1="177.8" x2="1018.96" y2="173.8" stroke="#000" stroke-width="1.8"/>
<path d="M752.0,161.5L752.1,162.3L752.3,160.6L752.4,158.8L752.6,160.0L752.7,158.4L752.9,161.4L753.0,165.1L753.2,159.6L753.3,159.1L753.5,162.2L753.6,161.5L753.8,160.5L753.9,157.2L754.1,159.3L754.2,160.9L754.4,154.5L754.5,156.2L754.7,151.3L754.8,152.0L755.0,149.3L755.1,152.1L755.3,147.8L755.4,149.7L755.6,147.3L755.7,144.1L755.9,136.6L756.0,137.9L756.2,135.8L756.3,132.8L756.5,126.8L756.6,124.9L756.8,120.7L756.9,117.3L757.1,115.3L757.2,110.1L757.4,107.3L757.5,104.8L757.7,100.5L757.8,98.3L758.0,96.2L758.1,94.4L758.3,91.9L758.4,92.2L758.6,93.1L758.7,95.6L758.9,102.4L759.0,106.1L759.2,109.4L759.3,115.4L759.5,117.7L759.6,118.8L759.8,123.1L759.9,126.4L760.1,127.8L760.2,131.4L760.4,132.3L760.5,135.5L760.7,138.8L760.8,136.5L761.0,139.7L761.1,139.8L761.3,142.3L761.4,140.7L761.6,143.1L761.7,144.9L761.9,148.4L762.0,149.9L762.2,145.0L762.3,147.0L762.5,151.2L762.6,145.3L762.8,149.7L762.9,151.2L763.1,155.2L763.2,154.3L763.4,152.2L763.5,152.5L763.7,153.2L763.8,158.3L764.0,153.5L764.1,154.2L764.3,156.2L764.4,155.3L764.6,155.3L764.7,153.1L764.9,156.4L765.0,155.4L765.2,160.1L765.3,158.9L765.5,157.2L765.6,159.3L765.8,156.7L765.9,160.7L766.1,157.9L766.2,159.7L766.4,154.6L766.5,159.4L766.7,153.7L766.8,152.9L767.0,157.9L767.1,156.3L767.3,159.4L767.4,165.5L767.6,156.8L767.7,157.5L767.9,159.9L768.0,160.8L768.2,159.0L768.3,159.0L768.5,161.7L768.6,161.2L768.8,156.8L768.9,159.6L769.1,160.0L769.2,156.9L769.4,160.8L769.5,157.6L769.7,162.9L769.8,160.7L770.0,160.5L770.1,158.5L770.3,160.0L770.4,154.6L770.6,157.1L770.7,161.5L770.9,154.3L771.0,163.0L771.2,155.5L771.3,162.8L771.5,158.1L771.6,162.9L771.8,161.0L771.9,156.2L772.1,164.3L772.2,164.9L772.4,160.6L772.5,160.0L772.7,160.4L772.8,158.0L773.0,164.1L773.1,159.3L773.3,160.8L773.4,158.6L773.6,159.1L773.7,157.3L773.9,164.6L774.0,160.6L774.2,163.8L774.3,161.1L774.5,159.0L774.6,160.1L774.8,159.5L774.9,161.1L775.1,160.0L775.2,160.2L775.4,157.1L775.5,158.8L775.7,166.0L775.8,159.2L776.0,158.1L776.1,162.2L776.3,165.3L776.4,157.0L776.6,160.6L776.7,159.4L776.9,156.1L777.0,163.4L777.2,161.2L777.3,161.5L777.5,159.1L777.6,162.6L777.8,159.7L777.9,160.9L778.1,158.1L778.2,157.8L778.4,165.2L778.5,159.8L778.7,162.1L778.8,161.1L779.0,159.9L779.1,159.7L779.3,163.0L779.4,160.2L779.6,160.5L779.7,160.9L779.9,164.1L780.0,162.4L780.2,161.3L780.3,158.2L780.5,155.5L780.6,161.6L780.8,161.0L780.9,157.2L781.1,158.2L781.2,157.7L781.4,156.5L781.5,155.3L781.7,150.0L781.8,152.9L782.0,144.2L782.1,146.5L782.3,142.9L782.4,140.7L782.6,139.1L782.7,134.7L782.9,126.9L783.0,122.5L783.2,121.7L783.3,115.7L783.5,112.6L783.6,109.3L783.8,103.3L783.9,99.1L784.1,97.7L784.2,94.4L784.4,91.3L784.5,89.3L784.7,86.7L784.8,84.9L785.0,85.3L785.1,86.4L785.3,91.2L785.4,98.1L785.6,102.2L785.7,106.8L785.9,109.5L786.0,113.4L786.2,116.3L786.3,119.3L786.5,123.4L786.6,124.7L786.8,128.7L786.9,130.9L787.1,135.8L787.2,131.9L787.4,137.7L787.5,137.5L787.7,139.2L787.8,137.7L788.0,140.9L788.1,144.7L788.3,144.0L788.4,145.4L788.6,145.6L788.7,149.8L788.9,147.9L789.0,143.4L789.2,147.7L789.3,145.3L789.5,142.6L789.6,150.0L789.8,155.2L789.9,152.5L790.1,149.8L790.2,150.8L790.4,156.7L790.5,154.5L790.7,154.6L790.8,154.7L791.0,155.2L791.1,157.6L791.3,157.2L791.4,156.6L791.6,153.4L791.7,157.9L791.9,154.8L792.0,159.9L792.2,153.6L792.3,156.9L792.5,157.5L792.6,154.0L792.8,162.7L792.9,162.1L793.1,156.8L793.2,160.4L793.4,159.5L793.5,151.1L793.7,159.4L793.8,158.6L794.0,159.1L794.1,155.9L794.3,158.3L794.4,158.6L794.6,162.7L794.7,160.3L794.9,159.4L795.0,163.9L795.2,158.0L795.3,158.5L795.5,154.5L795.6,164.3L795.8,162.6L795.9,162.5L796.1,161.9L796.2,160.3L796.4,160.7L796.5,159.4L796.7,159.6L796.8,160.4L797.0,164.6L797.1,161.9L797.3,160.2L797.4,158.7L797.6,158.6L797.7,165.1L797.9,162.0L798.0,160.7L798.2,159.6L798.3,157.4L798.5,160.4L798.6,163.2L798.8,159.5L798.9,160.1L799.1,160.1L799.2,161.1L799.4,156.2L799.5,160.1L799.7,158.4L799.8,163.4L800.0,158.6L800.1,162.6L800.3,165.3L800.4,160.0L800.6,159.2L800.7,161.5L800.9,161.0L801.0,158.1L801.2,162.4L801.3,166.9L801.5,160.3L801.6,160.5L801.8,158.1L801.9,162.0L802.1,157.5L802.2,157.9L802.4,164.8L802.5,158.5L802.7,164.3L802.8,165.6L803.0,161.9L803.1,162.8L803.3,166.9L803.4,160.6L803.6,159.5L803.7,157.3L803.9,161.4L804.0,165.5L804.2,164.0L804.3,158.5L804.5,158.8L804.6,159.8L804.8,162.1L804.9,160.7L805.1,161.9L805.2,162.1L805.4,160.4L805.5,161.1L805.7,161.8L805.8,160.9L806.0,162.6L806.1,166.5L806.3,162.7L806.4,161.0L806.6,155.8L806.7,161.6L806.9,154.6L807.0,155.8L807.2,162.0L807.3,161.1L807.5,158.0L807.6,153.0L807.8,155.9L807.9,154.0L808.1,156.4L808.2,159.1L808.4,152.2L808.5,147.9L808.7,145.0L808.8,145.3L809.0,142.5L809.1,137.7L809.3,137.1L809.4,131.6L809.6,131.9L809.7,128.0L809.9,124.0L810.0,118.3L810.2,115.4L810.3,111.0L810.5,107.0L810.6,103.5L810.8,99.4L810.9,96.2L811.1,95.6L811.2,92.5L811.4,91.1L811.5,90.6L811.7,87.6L811.8,90.1L812.0,96.1L812.1,101.0L812.3,104.7L812.4,110.0L812.6,113.0L812.7,115.1L812.9,118.4L813.0,123.3L813.2,125.6L813.3,124.7L813.5,131.8L813.6,132.8L813.8,136.1L813.9,134.9L814.1,136.7L814.2,136.6L814.4,145.4L814.5,141.2L814.7,146.2L814.8,142.6L815.0,145.4L815.1,142.2L815.3,146.0L815.4,150.1L815.6,145.6L815.7,151.9L815.9,150.8L816.0,148.0L816.2,150.0L816.3,150.6L816.5,152.2L816.6,151.4L816.8,151.1L816.9,152.9L817.1,151.4L817.2,151.0L817.4,154.7L817.5,157.5L817.7,151.3L817.8,155.7L818.0,154.2L818.1,153.6L818.3,158.8L818.4,155.3L818.6,161.1L818.7,155.0L818.9,158.4L819.0,156.9L819.2,155.6L819.3,159.5L819.5,157.6L819.6,159.8L819.8,158.2L819.9,155.3L820.1,158.3L820.2,158.8L820.4,161.5L820.5,156.3L820.7,158.9L820.8,154.2L821.0,161.0L821.1,156.2L821.3,154.2L821.4,159.3L821.6,162.7L821.7,155.2L821.9,156.5L822.0,157.6L822.2,156.5L822.3,160.9L822.5,157.6L822.6,157.9L822.8,161.7L822.9,157.9L823.1,161.4L823.2,157.4L823.4,156.7L823.5,154.9L823.7,165.7L823.8,159.4L824.0,161.1L824.1,160.3L824.3,160.9L824.4,160.6L824.6,166.1L824.7,157.6L824.9,156.1L825.0,157.7L825.2,156.8L825.3,162.9L825.5,163.1L825.6,158.0L825.8,156.7L825.9,159.8L826.1,164.9L826.2,152.7L826.4,162.4L826.5,157.8L826.7,163.9L826.8,157.8L827.0,160.1L827.1,156.6L827.3,158.1L827.4,165.0L827.6,163.4L827.7,159.9L827.9,158.5L828.0,155.6L828.2,159.9L828.3,161.0L828.5,160.9L828.6,160.8L828.8,157.9L828.9,161.0L829.1,161.0L829.2,164.9L829.4,166.6L829.5,160.8L829.7,159.0L829.8,161.0L830.0,159.5L830.1,159.1L830.3,161.1L830.4,158.2L830.6,163.0L830.7,161.0L830.9,162.0L831.0,160.7L831.2,159.2L831.3,158.5L831.5,160.6L831.6,159.7L831.8,162.0L831.9,161.3L832.1,157.3L832.2,161.5L832.4,157.3L832.5,159.4L832.7,160.3L832.8,155.1L833.0,161.3L833.1,161.4L833.3,160.4L833.4,159.4L833.6,159.3L833.7,157.3L833.9,159.0L834.0,157.8L834.2,159.1L834.3,154.8L834.5,158.1L834.6,157.0L834.8,155.1L834.9,153.1L835.1,154.2L835.2,146.9L835.4,150.3L835.5,147.6L835.7,145.2L835.8,142.7L836.0,137.7L836.1,135.4L836.3,133.6L836.4,129.6L836.6,125.5L836.7,119.6L836.9,118.1L837.0,114.7L837.2,110.7L837.3,106.4L837.5,101.3L837.6,100.3L837.8,96.4L837.9,91.9L838.1,92.4L838.2,89.2L838.4,88.3L838.5,88.4L838.7,93.6L838.8,97.2L839.0,102.4L839.1,108.0L839.3,111.7L839.4,113.9L839.6,117.1L839.7,118.9L839.9,122.3L840.0,126.4L840.2,128.8L840.3,130.6L840.5,134.2L840.6,133.1L840.8,136.1L840.9,139.2L841.1,140.5L841.2,142.9L841.4,142.9L841.5,142.6L841.7,145.1L841.8,143.1L842.0,142.6L842.1,148.6L842.3,147.9L842.4,149.6L842.6,145.4L842.7,149.3L842.9,149.3L843.0,149.2L843.2,146.2L843.3,151.6L843.5,155.3L843.6,154.4L843.8,152.2L843.9,154.2L844.1,156.6L844.2,147.5L844.4,154.9L844.5,157.0L844.7,157.7L844.8,160.7L845.0,159.4L845.1,157.4L845.3,157.6L845.4,159.2L845.6,155.7L845.7,157.3L845.9,160.1L846.0,163.2L846.2,157.5L846.3,157.9L846.5,158.8L846.6,162.1L846.8,158.4L846.9,162.8L847.1,156.0L847.2,158.3L847.4,158.4L847.5,161.3L847.7,162.1L847.8,154.9L848.0,156.7L848.1,160.3L848.3,157.6L848.4,155.2L848.6,162.6L848.7,161.1L848.9,161.2L849.0,158.4L849.2,162.9L849.3,159.2L849.5,163.2L849.6,157.4L849.8,157.6L849.9,160.7L850.1,158.2L850.2,162.2L850.4,161.0L850.5,157.6L850.7,160.6L850.8,159.4L851.0,163.1L851.1,158.6L851.3,159.2L851.4,164.1L851.6,167.1L851.7,166.4L851.9,160.8L852.0,161.3L852.2,165.1L852.3,160.4L852.5,157.9L852.6,161.1L852.8,162.1L852.9,158.4L853.1,156.1L853.2,156.7L853.4,162.8L853.5,158.7L853.7,160.5L853.8,161.6L854.0,162.8L854.1,160.0L854.3,162.5L854.4,158.4L854.6,160.0L854.7,158.1L854.9,164.4L855.0,161.0L855.2,159.0L855.3,160.1L855.5,160.5L855.6,163.2L855.8,156.5L855.9,158.2L856.1,160.1L856.2,168.5L856.4,164.0L856.5,160.9L856.7,163.3L856.8,167.2L857.0,160.6L857.1,160.2L857.3,164.8L857.4,162.7L857.6,163.2L857.7,159.8L857.9,166.9L858.0,166.2L858.2,162.9L858.3,163.3L858.5,155.4L858.6,163.2L858.8,160.7L858.9,162.6L859.1,163.3L859.2,160.3L859.4,156.4L859.5,162.3L859.7,159.1L859.8,160.2L860.0,159.4L860.1,160.1L860.3,154.3L860.4,164.4L860.6,161.4L860.7,163.7L860.9,166.0L861.0,160.0L861.2,154.3L861.3,156.5L861.5,155.0L861.6,156.3L861.8,157.1L861.9,150.4L862.1,155.5L862.2,149.3L862.4,152.3L862.5,149.4L862.7,146.8L862.8,145.0L863.0,141.4L863.1,138.5L863.3,133.5L863.4,133.2L863.6,132.6L863.7,128.7L863.9,123.8L864.0,119.0L864.2,113.7L864.3,111.7L864.5,106.6L864.6,103.0L864.8,99.4L864.9,96.7L865.1,93.6L865.2,91.6L865.4,89.0L865.5,88.4L865.7,90.1L865.8,89.7L866.0,94.8L866.1,100.3L866.3,104.9L866.4,107.4L866.6,111.9L866.7,116.4L866.9,119.1L867.0,121.9L867.2,126.5L867.3,126.0L867.5,129.4L867.6,130.6L867.8,136.0L867.9,131.8L868.1,135.7L868.2,137.5L868.4,141.3L868.5,142.6L868.7,145.5L868.8,140.3L869.0,146.5L869.1,145.1L869.3,145.2L869.4,148.9L869.6,146.2L869.7,144.1L869.9,148.9L870.0,146.8L870.2,149.5L870.3,152.6L870.5,153.0L870.6,156.8L870.8,152.6L870.9,149.6L871.1,152.0L871.2,151.9L871.4,151.5L871.5,156.2L871.7,153.6L871.8,150.3L872.0,157.8L872.1,155.9L872.3,157.4L872.4,156.9L872.6,158.6L872.7,157.2L872.9,160.7L873.0,158.6L873.2,158.7L873.3,158.9L873.5,153.9L873.6,157.6L873.8,157.5L873.9,159.0L874.1,154.7L874.2,163.3L874.4,159.0L874.5,155.4L874.7,154.1L874.8,158.2L875.0,158.9L875.1,157.2L875.3,159.6L875.4,157.6L875.6,161.1L875.7,157.5L875.9,159.5L876.0,162.5L876.2,167.2L876.3,156.9L876.5,158.5L876.6,157.5L876.8,162.3L876.9,156.7L877.1,158.7L877.2,160.1L877.4,157.4L877.5,157.5L877.7,158.9L877.8,154.2L878.0,156.2L878.1,159.2L878.3,160.9L878.4,160.0L878.6,155.4L878.7,159.2L878.9,162.9L879.0,162.2L879.2,160.4L879.3,158.1L879.5,162.5L879.6,159.1L879.8,157.4L879.9,158.5L880.1,165.0L880.2,161.5L880.4,164.2L880.5,159.5L880.7,163.6L880.8,159.2L881.0,160.5L881.1,168.2L881.3,163.2L881.4,159.5L881.6,160.8L881.7,162.0L881.9,164.6L882.0,159.6L882.2,156.0L882.3,160.3L882.5,161.1L882.6,161.4L882.8,164.9L882.9,162.1L883.1,163.5L883.2,158.0L883.4,163.7L883.5,167.3L883.7,163.4L883.8,161.9L884.0,161.7L884.1,166.4L884.3,158.5L884.4,160.9L884.6,162.6L884.7,163.4L884.9,160.0L885.0,162.2L885.2,160.5L885.3,161.6L885.5,160.9L885.6,157.9L885.8,161.2L885.9,163.8L886.1,158.4L886.2,160.5L886.4,163.0L886.5,157.9L886.7,161.5L886.8,157.8L887.0,164.0L887.1,167.2L887.3,166.1L887.4,159.2L887.6,161.6L887.7,159.3L887.9,158.6L888.0,161.9L888.2,153.1L888.3,158.5L888.5,154.3L888.6,156.6L888.8,151.8L888.9,147.8L889.1,147.9L889.2,146.5L889.4,142.3L889.5,140.2L889.7,135.1L889.8,129.1L890.0,130.4L890.1,126.2L890.3,121.5L890.4,117.4L890.6,114.2L890.7,109.0L890.9,104.9L891.0,101.7L891.2,99.4L891.3,94.1L891.5,93.6L891.6,89.7L891.8,87.5L891.9,88.4L892.1,86.5L892.2,87.2L892.4,93.4L892.5,99.4L892.7,104.1L892.8,106.9L893.0,111.5L893.1,115.3L893.3,117.3L893.4,121.3L893.6,123.7L893.7,125.5L893.9,127.9L894.0,130.9L894.2,132.9L894.3,133.7L894.5,135.7L894.6,140.2L894.8,140.0L894.9,142.7L895.1,144.7L895.2,144.6L895.4,149.5L895.5,143.6L895.7,148.3L895.8,146.6L896.0,152.5L896.1,153.0L896.3,144.8L896.4,147.9L896.6,152.5L896.7,153.4L896.9,153.9L897.0,152.3L897.2,154.1L897.3,155.1L897.5,153.6L897.6,156.9L897.8,148.6L897.9,156.6L898.1,152.4L898.2,158.1L898.4,155.2L898.5,153.6L898.7,157.3L898.8,154.1L899.0,154.3L899.1,152.7L899.3,157.1L899.4,158.8L899.6,160.4L899.7,157.3L899.9,160.8L900.0,158.1L900.2,157.9L900.3,159.9L900.5,161.4L900.6,157.6L900.8,158.0L900.9,158.3L901.1,159.1L901.2,156.4L901.4,162.0L901.5,158.0L901.7,160.6L901.8,157.0L902.0,160.5L902.1,160.6L902.3,158.4L902.4,165.5L902.6,160.8L902.7,164.9L902.9,162.6L903.0,158.0L903.2,158.9L903.3,161.3L903.5,160.3L903.6,160.3L903.8,159.3L903.9,155.0L904.1,159.6L904.2,153.9L904.4,161.4L904.5,158.3L904.7,158.4L904.8,159.8L905.0,161.3L905.1,156.4L905.3,155.5L905.4,157.5L905.6,154.7L905.7,157.9L905.9,165.3L906.0,157.7L906.2,162.6L906.3,156.8L906.5,161.7L906.6,159.9L906.8,160.7L906.9,162.5L907.1,166.0L907.2,161.5L907.4,161.3L907.5,158.1L907.7,162.7L907.8,160.3L908.0,163.4L908.1,160.9L908.3,166.1L908.4,155.3L908.6,160.2L908.7,163.6L908.9,160.1L909.0,158.8L909.2,160.3L909.3,157.1L909.5,161.5L909.6,168.2L909.8,164.5L909.9,158.0L910.1,158.7L910.2,160.0L910.4,164.1L910.5,158.8L910.7,159.2L910.8,163.8L911.0,163.8L911.1,160.2L911.3,158.0L911.4,156.8L911.6,159.2L911.7,154.8L911.9,163.5L912.0,159.5L912.2,162.7L912.3,166.7L912.5,164.7L912.6,158.0L912.8,163.8L912.9,164.6L913.1,159.1L913.2,158.5L913.4,160.9L913.5,156.5L913.7,165.4L913.8,154.0L914.0,157.7L914.1,160.0L914.3,159.9L914.4,160.8L914.6,160.8L914.7,159.1L914.9,162.5L915.0,152.6L915.2,158.0L915.3,155.2L915.5,156.5L915.6,155.6L915.8,151.3L915.9,150.5L916.1,152.3L916.2,149.1L916.4,144.5L916.5,147.9L916.7,145.4L916.8,134.9L917.0,134.9L917.1,134.9L917.3,128.4L917.4,123.7L917.6,119.3L917.7,115.1L917.9,111.5L918.0,107.4L918.2,104.9L918.3,100.4L918.5,97.2L918.6,93.7L918.8,92.4L918.9,89.7L919.1,88.9L919.2,89.2L919.4,88.3L919.5,93.8L919.7,98.6L919.8,102.9L920.0,106.9L920.1,110.6L920.3,115.1L920.4,116.7L920.6,122.3L920.7,123.6L920.9,125.1L921.0,127.8L921.2,129.7L921.3,133.1L921.5,133.4L921.6,138.5L921.8,136.5L921.9,135.0L922.1,139.4L922.2,137.9L922.4,143.3L922.5,146.8L922.7,146.9L922.8,143.4L923.0,145.5L923.1,152.4L923.3,149.7L923.4,149.6L923.6,152.9L923.7,157.0L923.9,154.7L924.0,152.4L924.2,153.4L924.3,154.6L924.5,151.8L924.6,151.1L924.8,154.4L924.9,152.1L925.1,154.8L925.2,155.5L925.4,161.9L925.5,153.5L925.7,155.8L925.8,155.9L926.0,157.8L926.1,159.7L926.3,155.7L926.4,154.9L926.6,152.8L926.7,155.0L926.9,159.2L927.0,158.0L927.2,155.2L927.3,157.1L927.5,158.4L927.6,159.9L927.8,156.9L927.9,158.0L928.1,153.6L928.2,155.6L928.4,163.6L928.5,152.9L928.7,158.2L928.8,159.9L929.0,158.3L929.1,157.1L929.3,159.4L929.4,159.6L929.6,159.4L929.7,154.3L929.9,159.4L930.0,157.4L930.2,158.3L930.3,160.6L930.5,161.9L930.6,162.7L930.8,158.7L930.9,162.9L931.1,163.6L931.2,163.6L931.4,164.4L931.5,159.9L931.7,159.9L931.8,162.8L932.0,156.5L932.1,161.1L932.3,159.0L932.4,159.5L932.6,155.6L932.7,158.1L932.9,160.6L933.0,163.3L933.2,163.6L933.3,160.5L933.5,160.2L933.6,158.4L933.8,162.0L933.9,160.1L934.1,162.6L934.2,166.0L934.4,160.8L934.5,156.6L934.7,158.5L934.8,156.7L935.0,157.5L935.1,164.8L935.3,161.7L935.4,156.6L935.6,162.9L935.7,164.7L935.9,160.0L936.0,159.1L936.2,160.1L936.3,161.9L936.5,163.0L936.6,164.6L936.8,164.7L936.9,164.6L937.1,165.1L937.2,163.1L937.4,156.8L937.5,160.8L937.7,162.1L937.8,160.1L938.0,163.9L938.1,160.2L938.3,158.6L938.4,165.5L938.6,163.2L938.7,161.9L938.9,164.0L939.0,164.4L939.2,162.3L939.3,154.2L939.5,159.3L939.6,160.0L939.8,158.5L939.9,161.9L940.1,164.8L940.2,159.9L940.4,158.0L940.5,167.1L940.7,159.9L940.8,157.6L941.0,161.8L941.1,162.3L941.3,158.9L941.4,163.2L941.6,159.3L941.7,157.8L941.9,160.7L942.0,162.1L942.2,157.7L942.3,159.9L942.5,158.1L942.6,165.5L942.8,154.8L942.9,159.4L943.1,154.3L943.2,152.7L943.4,153.2L943.5,151.6L943.7,150.2L943.8,145.6L944.0,140.9L944.1,138.2L944.3,137.0L944.4,133.7L944.6,131.2L944.7,125.8L944.9,122.6L945.0,118.9L945.2,113.5L945.3,108.1L945.5,104.5L945.6,100.6L945.8,99.8L945.9,94.6L946.1,93.6L946.2,90.8L946.4,90.0L946.5,88.1L946.7,86.5L946.8,88.2L947.0,93.7L947.1,98.7L947.3,102.6L947.4,107.2L947.6,112.5L947.7,113.2L947.9,118.2L948.0,119.9L948.2,123.9L948.3,127.4L948.5,128.6L948.6,132.1L948.8,130.2L948.9,136.7L949.1,135.3L949.2,139.3L949.4,139.9L949.5,135.6L949.7,140.6L949.8,143.9L950.0,147.9L950.1,146.1L950.3,147.0L950.4,144.0L950.6,151.5L950.7,153.2L950.9,149.7L951.0,149.7L951.2,146.8L951.3,153.7L951.5,158.9L951.6,154.3L951.8,156.2L951.9,154.8L952.1,151.2L952.2,157.7L952.4,151.3L952.5,154.3L952.7,156.0L952.8,157.9L953.0,156.9L953.1,157.1L953.3,154.2L953.4,153.0L953.6,156.9L953.7,155.0L953.9,153.6L954.0,153.9L954.2,156.2L954.3,152.5L954.5,154.1L954.6,153.4L954.8,158.7L954.9,159.5L955.1,164.1L955.2,154.3L955.4,156.8L955.5,161.4L955.7,158.3L955.8,158.1L956.0,164.0L956.1,158.2L956.3,156.0L956.4,155.6L956.6,160.4L956.7,160.4L956.9,155.6L957.0,156.8L957.2,161.3L957.3,161.5L957.5,158.0L957.6,161.7L957.8,161.6L957.9,154.9L958.1,159.2L958.2,161.3L958.4,158.5L958.5,154.0L958.7,159.5L958.8,162.5L959.0,164.9L959.1,154.0L959.3,168.0L959.4,157.2L959.6,163.3L959.7,164.1L959.9,163.4L960.0,161.0L960.2,157.3L960.3,162.5L960.5,158.6L960.6,153.4L960.8,169.0L960.9,162.8L961.1,166.1L961.2,158.2L961.4,165.1L961.5,165.5L961.7,165.4L961.8,160.8L962.0,157.4L962.1,160.4L962.3,154.6L962.4,156.0L962.6,161.3L962.7,158.1L962.9,160.6L963.0,160.7L963.2,166.7L963.3,164.8L963.5,161.0L963.6,164.6L963.8,158.9L963.9,160.2L964.1,163.8L964.2,157.6L964.4,160.4L964.5,157.3L964.7,161.5L964.8,165.9L965.0,159.0L965.1,161.9L965.3,158.6L965.4,157.9L965.6,157.7L965.7,165.5L965.9,168.1L966.0,162.7L966.2,159.2L966.3,163.3L966.5,160.3L966.6,163.6L966.8,162.1L966.9,162.1L967.1,163.1L967.2,159.6L967.4,160.1L967.5,156.3L967.7,160.0L967.8,157.2L968.0,160.9L968.1,158.5L968.3,161.6L968.4,162.5L968.6,157.1L968.7,158.8L968.9,158.3L969.0,163.1L969.2,165.8L969.3,163.1L969.5,159.4L969.6,164.4L969.8,155.4L969.9,163.6L970.1,156.9L970.2,150.3L970.4,164.6L970.5,160.6L970.7,152.4L970.8,154.3L971.0,151.8L971.1,150.8L971.3,145.0L971.4,144.7L971.6,144.7L971.7,141.3L971.9,140.1L972.0,134.6L972.2,134.7L972.3,126.1L972.5,123.6L972.6,117.1L972.8,114.0L972.9,112.2L973.1,106.2L973.2,103.6L973.4,99.4L973.5,95.1L973.7,92.7L973.8,89.9L974.0,87.8L974.1,87.2L974.3,86.1L974.4,84.5L974.6,88.0L974.7,94.3L974.9,98.8L975.0,104.3L975.2,109.8L975.3,112.1L975.5,114.8L975.6,117.9L975.8,120.1L975.9,122.7L976.1,125.0L976.2,128.2L976.4,130.2L976.5,134.2L976.7,134.1L976.8,136.2L977.0,135.8L977.1,142.9L977.3,142.0L977.4,146.0L977.6,145.1L977.7,147.8L977.9,144.9L978.0,148.1L978.2,153.6L978.3,145.2L978.5,151.7L978.6,153.7L978.8,151.3L978.9,152.8L979.1,154.7L979.2,150.3L979.4,153.6L979.5,150.7L979.7,151.6L979.8,152.1L980.0,153.8L980.1,154.9L980.3,156.1L980.4,151.3L980.6,161.0L980.7,159.0L980.9,158.1L981.0,155.3L981.2,156.3L981.3,158.3L981.5,158.1L981.6,152.4L981.8,159.5L981.9,165.9L982.1,152.4L982.2,160.7L982.4,159.1L982.5,157.8L982.7,162.3L982.8,155.0L983.0,159.0L983.1,162.9L983.3,158.2L983.4,157.7L983.6,159.3L983.7,157.8L983.9,163.7L984.0,156.6L984.2,161.9L984.3,155.7L984.5,161.5L984.6,159.3L984.8,152.0L984.9,159.7L985.1,156.6L985.2,158.5L985.4,164.5L985.5,156.6L985.7,156.9L985.8,164.4L986.0,160.5L986.1,164.8L986.3,161.2L986.4,157.6L986.6,160.1L986.7,164.0L986.9,163.2L987.0,160.4L987.2,160.6L987.3,160.2L987.5,158.8L987.6,166.3L987.8,160.6L987.9,157.3L988.1,159.2L988.2,162.9L988.4,162.6L988.5,160.3L988.7,158.8L988.8,160.9L989.0,155.8L989.1,157.0L989.3,163.2L989.4,159.5L989.6,162.0L989.7,164.6L989.9,162.9L990.0,161.0L990.2,167.3L990.3,163.0L990.5,160.0L990.6,163.2L990.8,162.3L990.9,158.5L991.1,161.3L991.2,160.6L991.4,155.2L991.5,160.6L991.7,160.3L991.8,159.8L992.0,156.2L992.1,160.1L992.3,161.1L992.4,161.5L992.6,157.8L992.7,163.1L992.9,157.6L993.0,160.6L993.2,165.1L993.3,159.2L993.5,159.7L993.6,164.5L993.8,160.1L993.9,160.4L994.1,161.9L994.2,164.4L994.4,154.7L994.5,158.8L994.7,158.2L994.8,158.0L995.0,158.6L995.1,158.6L995.3,162.0L995.4,158.3L995.6,161.2L995.7,161.9L995.9,158.3L996.0,160.6L996.2,164.8L996.3,160.5L996.5,157.2L996.6,158.3L996.8,155.1L996.9,157.6L997.1,158.2L997.2,152.3L997.4,152.6L997.5,154.3L997.7,148.3L997.8,147.9L998.0,142.7L998.1,140.5L998.3,138.3L998.4,140.1L998.6,131.9L998.7,128.1L998.9,124.3L999.0,120.8L999.2,117.5L999.3,112.8L999.5,110.2L999.6,104.6L999.8,101.7L999.9,97.0L1000.1,93.9L1000.2,89.2L1000.4,87.8L1000.5,85.8L1000.7,84.2L1000.8,81.6L1001.0,83.9L1001.1,88.5L1001.3,93.8L1001.4,98.8L1001.6,103.3L1001.7,107.9L1001.9,110.3L1002.0,114.1L1002.2,118.4L1002.3,121.3L1002.5,123.4L1002.6,125.6L1002.8,127.5L1002.9,130.8L1003.1,134.9L1003.2,132.9L1003.4,139.3L1003.5,139.7L1003.7,138.6L1003.8,142.5L1004.0,139.1L1004.1,139.6L1004.3,141.6L1004.4,144.5L1004.6,145.6L1004.7,146.1L1004.9,148.3L1005.0,143.7L1005.2,150.8L1005.3,146.7L1005.5,149.2L1005.6,150.4L1005.8,149.0L1005.9,148.9L1006.1,150.3L1006.2,153.3L1006.4,155.3L1006.5,155.6L1006.7,151.9L1006.8,152.7L1007.0,152.7L1007.1,156.7L1007.3,150.2L1007.4,159.4L1007.6,154.9L1007.7,154.3L1007.9,157.7L1008.0,159.8L1008.2,158.1L1008.3,160.2L1008.5,157.9L1008.6,161.1L1008.8,161.3L1008.9,157.7L1009.1,162.2L1009.2,158.7L1009.4,158.6L1009.5,155.9L1009.7,157.8L1009.8,161.0L1010.0,155.1L1010.1,160.8L1010.3,160.1L1010.4,159.9L1010.6,152.9L1010.7,159.0L1010.9,161.3L1011.0,157.3L1011.2,159.8L1011.3,152.8L1011.5,161.6L1011.6,157.8L1011.8,162.3L1011.9,154.6L1012.1,162.0L1012.2,159.3L1012.4,162.4L1012.5,157.4L1012.7,158.4L1012.8,166.7L1013.0,157.8L1013.1,158.2L1013.3,159.5L1013.4,157.4L1013.6,163.9L1013.7,165.5L1013.9,158.4L1014.0,155.5L1014.2,164.0L1014.3,163.8L1014.5,163.0L1014.6,164.0L1014.8,158.2L1014.9,160.2L1015.1,156.7L1015.2,156.6L1015.4,163.6L1015.5,158.9L1015.7,167.4L1015.8,161.1L1016.0,159.0L1016.1,163.2L1016.3,166.1L1016.4,162.3L1016.6,157.4L1016.7,162.0L1016.9,165.0L1017.0,159.6L1017.2,158.8L1017.3,164.0L1017.5,161.5L1017.6,157.9L1017.8,160.0L1017.9,158.9L1018.1,162.0L1018.2,161.4L1018.4,164.5L1018.5,163.2L1018.7,156.6L1018.8,162.4L1019.0,163.8L1019.1,162.5L1019.3,164.2L1019.4,159.6L1019.6,158.5L1019.7,163.9L1019.9,158.1L1020.0,155.0L1020.2,164.2L1020.3,159.2L1020.5,160.4L1020.6,157.2L1020.8,157.4L1020.9,157.9L1021.1,160.2L1021.2,162.3L1021.4,154.5L1021.5,163.4L1021.7,157.7L1021.8,158.0L1022.0,162.9L1022.1,160.6L1022.3,156.2L1022.4,165.9L1022.6,157.8L1022.7,160.7L1022.9,160.1L1023.0,163.1L1023.2,157.2L1023.3,160.5L1023.5,154.8L1023.6,158.8L1023.8,152.5L1023.9,152.1L1024.1,156.1L1024.2,150.1L1024.4,147.4L1024.5,149.6L1024.7,142.6L1024.8,137.1L1025.0,136.6L1025.1,129.7L1025.3,129.4L1025.4,125.1L1025.6,118.7L1025.7,114.3L1025.9,110.5L1026.0,105.8L1026.2,100.5L1026.3,97.6L1026.5,91.3L1026.6,88.9L1026.8,85.6L1026.9,82.8L1027.1,80.9L1027.2,77.8L1027.4,78.1L1027.5,76.9L1027.7,80.7L1027.8,85.9L1028.0,91.4L1028.1,97.7L1028.3,101.1L1028.4,106.2L1028.6,111.0L1028.7,114.5L1028.9,118.4L1029.0,119.6L1029.2,121.4L1029.3,126.7L1029.5,128.2L1029.6,131.7L1029.8,132.1L1029.9,136.0L1030.1,137.2L1030.2,138.7L1030.4,139.8L1030.5,141.0L1030.7,142.0L1030.8,143.2L1031.0,146.0L1031.1,143.7L1031.3,149.8L1031.4,146.5L1031.6,149.9L1031.7,148.2L1031.9,148.5L1032.0,154.7L1032.2,149.6L1032.3,147.8L1032.5,149.7L1032.6,151.3L1032.8,158.1L1032.9,153.5L1033.1,155.9L1033.2,151.2L1033.4,155.1L1033.5,156.3L1033.7,159.7L1033.8,153.3L1034.0,157.1L1034.1,156.6L1034.3,153.2L1034.4,156.2L1034.6,155.8L1034.7,150.3L1034.9,158.6L1035.0,158.6L1035.2,156.1L1035.3,153.8L1035.5,161.8L1035.6,158.6L1035.8,160.8L1035.9,162.1L1036.1,156.8L1036.2,160.7L1036.4,157.8L1036.5,158.4L1036.7,158.5L1036.8,158.8L1037.0,162.1L1037.1,159.4L1037.3,158.7L1037.4,158.4L1037.6,160.3L1037.7,156.8L1037.9,158.0L1038.0,159.4L1038.2,158.0" fill="none" stroke="#10148c" stroke-width="1.1"/>
<rect x="751.0" y="50.9" width="288.0999999999999" height="126.9" fill="none" stroke="#000" stroke-width="2"/>
<text x="766.24" y="193.0" font-size="13.5" font-weight="bold" fill="#000" text-anchor="middle">-12</text>
<text x="808.36" y="193.0" font-size="13.5" font-weight="bold" fill="#000" text-anchor="middle">-8</text>
<text x="850.48" y="193.0" font-size="13.5" font-weight="bold" fill="#000" text-anchor="middle">-4</text>
<text x="892.6" y="193.0" font-size="13.5" font-weight="bold" fill="#000" text-anchor="middle">0</text>
<text x="934.72" y="193.0" font-size="13.5" font-weight="bold" fill="#000" text-anchor="middle">4</text>
<text x="976.84" y="193.0" font-size="13.5" font-weight="bold" fill="#000" text-anchor="middle">8</text>
<text x="1018.96" y="193.0" font-size="13.5" font-weight="bold" fill="#000" text-anchor="middle">12</text>
<text x="898.5" y="205.5" font-size="17.5" font-weight="bold" fill="#000" text-anchor="middle">Time (μs)</text>
<text x="744.0" y="113.5" font-size="18" font-weight="bold" fill="#000" text-anchor="middle" transform="rotate(-90 744.0 113.5)">Intensity (a.u.)</text>
<text x="912.5" y="74.3" font-size="13.9" font-weight="bold" fill="#000" text-anchor="middle">Pump power=3.72 W f=434.8 kHz</text>
<line x1="144.125" y1="777.7" x2="144.125" y2="774.5" stroke="#000" stroke-width="2.4"/>
<line x1="186.3" y1="777.7" x2="186.3" y2="772.2" stroke="#000" stroke-width="2.4"/>
<line x1="228.47500000000002" y1="777.7" x2="228.47500000000002" y2="774.5" stroke="#000" stroke-width="2.4"/>
<line x1="270.65" y1="777.7" x2="270.65" y2="772.2" stroke="#000" stroke-width="2.4"/>
<line x1="312.825" y1="777.7" x2="312.825" y2="774.5" stroke="#000" stroke-width="2.4"/>
<line x1="355.0" y1="777.7" x2="355.0" y2="772.2" stroke="#000" stroke-width="2.4"/>
<line x1="397.175" y1="777.7" x2="397.175" y2="774.5" stroke="#000" stroke-width="2.4"/>
<line x1="439.35" y1="777.7" x2="439.35" y2="772.2" stroke="#000" stroke-width="2.4"/>
<line x1="481.525" y1="777.7" x2="481.525" y2="774.5" stroke="#000" stroke-width="2.4"/>
<line x1="102.0" y1="765.1" x2="107.5" y2="765.1" stroke="#d2000c" stroke-width="2.4"/>
<line x1="102.0" y1="734.96" x2="105.2" y2="734.96" stroke="#d2000c" stroke-width="2.4"/>
<line x1="102.0" y1="704.82" x2="107.5" y2="704.82" stroke="#d2000c" stroke-width="2.4"/>
<line x1="102.0" y1="674.6800000000001" x2="105.2" y2="674.6800000000001" stroke="#d2000c" stroke-width="2.4"/>
<line x1="102.0" y1="644.54" x2="107.5" y2="644.54" stroke="#d2000c" stroke-width="2.4"/>
<line x1="102.0" y1="614.4000000000001" x2="105.2" y2="614.4000000000001" stroke="#d2000c" stroke-width="2.4"/>
<line x1="102.0" y1="584.26" x2="107.5" y2="584.26" stroke="#d2000c" stroke-width="2.4"/>
<line x1="102.0" y1="554.12" x2="105.2" y2="554.12" stroke="#d2000c" stroke-width="2.4"/>
<line x1="102.0" y1="523.98" x2="107.5" y2="523.98" stroke="#d2000c" stroke-width="2.4"/>
<line x1="102.0" y1="493.84000000000003" x2="105.2" y2="493.84000000000003" stroke="#d2000c" stroke-width="2.4"/>
<line x1="489.8" y1="767.2" x2="484.3" y2="767.2" stroke="#000c8c" stroke-width="2.4"/>
<line x1="489.8" y1="741.9175" x2="486.6" y2="741.9175" stroke="#000c8c" stroke-width="2.4"/>
<line x1="489.8" y1="716.635" x2="484.3" y2="716.635" stroke="#000c8c" stroke-width="2.4"/>
<line x1="489.8" y1="691.3525000000001" x2="486.6" y2="691.3525000000001" stroke="#000c8c" stroke-width="2.4"/>
<line x1="489.8" y1="666.07" x2="484.3" y2="666.07" stroke="#000c8c" stroke-width="2.4"/>
<line x1="489.8" y1="640.7875" x2="486.6" y2="640.7875" stroke="#000c8c" stroke-width="2.4"/>
<line x1="489.8" y1="615.505" x2="484.3" y2="615.505" stroke="#000c8c" stroke-width="2.4"/>
<line x1="489.8" y1="590.2225000000001" x2="486.6" y2="590.2225000000001" stroke="#000c8c" stroke-width="2.4"/>
<line x1="489.8" y1="564.94" x2="484.3" y2="564.94" stroke="#000c8c" stroke-width="2.4"/>
<line x1="489.8" y1="539.6575" x2="486.6" y2="539.6575" stroke="#000c8c" stroke-width="2.4"/>
<line x1="489.8" y1="514.375" x2="484.3" y2="514.375" stroke="#000c8c" stroke-width="2.4"/>
<line x1="489.8" y1="489.09250000000003" x2="486.6" y2="489.09250000000003" stroke="#000c8c" stroke-width="2.4"/>
<line x1="102.0" y1="463.8" x2="489.8" y2="463.8" stroke="#000" stroke-width="3"/>
<line x1="102.0" y1="777.7" x2="489.8" y2="777.7" stroke="#000" stroke-width="3"/>
<line x1="102.0" y1="462.3" x2="102.0" y2="779.2" stroke="#d2000c" stroke-width="3"/>
<line x1="489.8" y1="462.3" x2="489.8" y2="779.2" stroke="#000c8c" stroke-width="3"/>
<text x="101.95000000000002" y="800.0" font-size="18.5" font-weight="bold" fill="#000" text-anchor="middle">1.5</text>
<text x="186.3" y="800.0" font-size="18.5" font-weight="bold" fill="#000" text-anchor="middle">2.0</text>
<text x="270.65" y="800.0" font-size="18.5" font-weight="bold" fill="#000" text-anchor="middle">2.5</text>
<text x="355.0" y="800.0" font-size="18.5" font-weight="bold" fill="#000" text-anchor="middle">3.0</text>
<text x="439.35" y="800.0" font-size="18.5" font-weight="bold" fill="#000" text-anchor="middle">3.5</text>
<text x="95.5" y="771.8000000000001" font-size="20" font-weight="bold" fill="#d2000c" text-anchor="end">100</text>
<text x="95.5" y="711.5200000000001" font-size="20" font-weight="bold" fill="#d2000c" text-anchor="end">150</text>
<text x="95.5" y="651.24" font-size="20" font-weight="bold" fill="#d2000c" text-anchor="end">200</text>
<text x="95.5" y="590.96" font-size="20" font-weight="bold" fill="#d2000c" text-anchor="end">250</text>
<text x="95.5" y="530.6800000000001" font-size="20" font-weight="bold" fill="#d2000c" text-anchor="end">300</text>
<text x="95.5" y="470.40000000000003" font-size="20" font-weight="bold" fill="#d2000c" text-anchor="end">350</text>
<text x="496.0" y="773.1" font-size="20" font-weight="bold" fill="#000c8c" text-anchor="start">150</text>
<text x="496.0" y="722.535" font-size="20" font-weight="bold" fill="#000c8c" text-anchor="start">200</text>
<text x="496.0" y="671.97" font-size="20" font-weight="bold" fill="#000c8c" text-anchor="start">250</text>
<text x="496.0" y="621.405" font-size="20" font-weight="bold" fill="#000c8c" text-anchor="start">300</text>
<text x="496.0" y="570.84" font-size="20" font-weight="bold" fill="#000c8c" text-anchor="start">350</text>
<text x="496.0" y="520.275" font-size="20" font-weight="bold" fill="#000c8c" text-anchor="start">400</text>
<text x="496.0" y="469.71" font-size="20" font-weight="bold" fill="#000c8c" text-anchor="start">450</text>
<polyline points="120.6,499.3 172.1,535.5 219.6,578.1 272.2,608.0 322.8,641.3 376.7,674.8 423.7,720.6 476.0,754.4" fill="none" stroke="#d2000c" stroke-width="2.5" stroke-linejoin="round" stroke-linecap="round"/>
<circle cx="120.6" cy="499.3" r="3.3" fill="#d2000c"/>
<circle cx="172.1" cy="535.5" r="3.3" fill="#d2000c"/>
<circle cx="219.6" cy="578.1" r="3.3" fill="#d2000c"/>
<circle cx="272.2" cy="608.0" r="3.3" fill="#d2000c"/>
<circle cx="322.8" cy="641.3" r="3.3" fill="#d2000c"/>
<circle cx="376.7" cy="674.8" r="3.3" fill="#d2000c"/>
<circle cx="423.7" cy="720.6" r="3.3" fill="#d2000c"/>
<circle cx="476.0" cy="754.4" r="3.3" fill="#d2000c"/>
<polyline points="120.6,763.6 172.1,718.0 219.6,682.0 272.2,633.0 322.8,577.8 376.7,535.9 423.7,504.1 476.0,478.8" fill="none" stroke="#000c8c" stroke-width="2.5" stroke-linejoin="round" stroke-linecap="round"/>
<circle cx="120.6" cy="763.6" r="3.3" fill="#000c8c"/>
<circle cx="172.1" cy="718.0" r="3.3" fill="#000c8c"/>
<circle cx="219.6" cy="682.0" r="3.3" fill="#000c8c"/>
<circle cx="272.2" cy="633.0" r="3.3" fill="#000c8c"/>
<circle cx="322.8" cy="577.8" r="3.3" fill="#000c8c"/>
<circle cx="376.7" cy="535.9" r="3.3" fill="#000c8c"/>
<circle cx="423.7" cy="504.1" r="3.3" fill="#000c8c"/>
<circle cx="476.0" cy="478.8" r="3.3" fill="#000c8c"/>
<line x1="175.2" y1="490.6" x2="213.7" y2="490.6" stroke="#d2000c" stroke-width="2.9"/>
<circle cx="194.6" cy="490.6" r="3.0" fill="#d2000c"/>
<line x1="175.2" y1="522.4" x2="213.7" y2="522.4" stroke="#000c8c" stroke-width="2.9"/>
<circle cx="194.6" cy="522.4" r="3.0" fill="#000c8c"/>
<text x="217.3" y="495.6" font-size="26.4" font-weight="bold" fill="#000" text-anchor="start">Pulse duration</text>
<text x="217.3" y="528.1" font-size="26.4" font-weight="bold" fill="#000" text-anchor="start">Repetition rate</text>
<text x="295.75" y="822.0" font-size="26.6" font-weight="bold" fill="#000" text-anchor="middle">Pump Power (W)</text>
<text x="60.3" y="620.2" font-size="26.6" font-weight="bold" fill="#000" text-anchor="middle" transform="rotate(-90 60.3 620.2)">Pulse duration (ns)</text>
<text x="549.0" y="620.3" font-size="26.6" font-weight="bold" fill="#000c8c" text-anchor="middle" transform="rotate(-90 549.0 620.3)">Repetition rate (kHz)</text>
<text x="28.5" y="463.5" font-size="26" font-weight="bold" fill="#000" text-anchor="start">(c)</text>
<line x1="674.7" y1="780.3" x2="674.7" y2="774.8" stroke="#000" stroke-width="2.4"/>
<line x1="708.38" y1="780.3" x2="708.38" y2="777.0999999999999" stroke="#000" stroke-width="2.4"/>
<line x1="742.0600000000001" y1="780.3" x2="742.0600000000001" y2="774.8" stroke="#000" stroke-width="2.4"/>
<line x1="775.74" y1="780.3" x2="775.74" y2="777.0999999999999" stroke="#000" stroke-width="2.4"/>
<line x1="809.4200000000001" y1="780.3" x2="809.4200000000001" y2="774.8" stroke="#000" stroke-width="2.4"/>
<line x1="843.1" y1="780.3" x2="843.1" y2="777.0999999999999" stroke="#000" stroke-width="2.4"/>
<line x1="876.7800000000001" y1="780.3" x2="876.7800000000001" y2="774.8" stroke="#000" stroke-width="2.4"/>
<line x1="910.46" y1="780.3" x2="910.46" y2="777.0999999999999" stroke="#000" stroke-width="2.4"/>
<line x1="944.1400000000001" y1="780.3" x2="944.1400000000001" y2="774.8" stroke="#000" stroke-width="2.4"/>
<line x1="977.8200000000002" y1="780.3" x2="977.8200000000002" y2="777.0999999999999" stroke="#000" stroke-width="2.4"/>
<line x1="1011.5" y1="780.3" x2="1011.5" y2="774.8" stroke="#000" stroke-width="2.4"/>
<line x1="658.3" y1="748.2" x2="663.8" y2="748.2" stroke="#d2000c" stroke-width="2.4"/>
<line x1="658.3" y1="716.725" x2="661.5" y2="716.725" stroke="#d2000c" stroke-width="2.4"/>
<line x1="658.3" y1="685.25" x2="663.8" y2="685.25" stroke="#d2000c" stroke-width="2.4"/>
<line x1="658.3" y1="653.775" x2="661.5" y2="653.775" stroke="#d2000c" stroke-width="2.4"/>
<line x1="658.3" y1="622.3000000000001" x2="663.8" y2="622.3000000000001" stroke="#d2000c" stroke-width="2.4"/>
<line x1="658.3" y1="590.825" x2="661.5" y2="590.825" stroke="#d2000c" stroke-width="2.4"/>
<line x1="658.3" y1="559.35" x2="663.8" y2="559.35" stroke="#d2000c" stroke-width="2.4"/>
<line x1="658.3" y1="527.875" x2="661.5" y2="527.875" stroke="#d2000c" stroke-width="2.4"/>
<line x1="658.3" y1="496.4" x2="663.8" y2="496.4" stroke="#d2000c" stroke-width="2.4"/>
<line x1="1047.0" y1="757.3" x2="1043.8" y2="757.3" stroke="#000c8c" stroke-width="2.4"/>
<line x1="1047.0" y1="734.8" x2="1041.5" y2="734.8" stroke="#000c8c" stroke-width="2.4"/>
<line x1="1047.0" y1="712.3" x2="1043.8" y2="712.3" stroke="#000c8c" stroke-width="2.4"/>
<line x1="1047.0" y1="689.8" x2="1041.5" y2="689.8" stroke="#000c8c" stroke-width="2.4"/>
<line x1="1047.0" y1="667.3" x2="1043.8" y2="667.3" stroke="#000c8c" stroke-width="2.4"/>
<line x1="1047.0" y1="644.8" x2="1041.5" y2="644.8" stroke="#000c8c" stroke-width="2.4"/>
<line x1="1047.0" y1="622.3" x2="1043.8" y2="622.3" stroke="#000c8c" stroke-width="2.4"/>
<line x1="1047.0" y1="599.8" x2="1041.5" y2="599.8" stroke="#000c8c" stroke-width="2.4"/>
<line x1="1047.0" y1="577.3" x2="1043.8" y2="577.3" stroke="#000c8c" stroke-width="2.4"/>
<line x1="1047.0" y1="554.8" x2="1041.5" y2="554.8" stroke="#000c8c" stroke-width="2.4"/>
<line x1="1047.0" y1="532.3" x2="1043.8" y2="532.3" stroke="#000c8c" stroke-width="2.4"/>
<line x1="1047.0" y1="509.79999999999995" x2="1041.5" y2="509.79999999999995" stroke="#000c8c" stroke-width="2.4"/>
<line x1="1047.0" y1="487.29999999999995" x2="1043.8" y2="487.29999999999995" stroke="#000c8c" stroke-width="2.4"/>
<line x1="658.3" y1="464.8" x2="1047.0" y2="464.8" stroke="#000" stroke-width="3"/>
<line x1="658.3" y1="780.3" x2="1047.0" y2="780.3" stroke="#000" stroke-width="3"/>
<line x1="658.3" y1="463.3" x2="658.3" y2="781.8" stroke="#d2000c" stroke-width="3"/>
<line x1="1047.0" y1="463.3" x2="1047.0" y2="781.8" stroke="#000c8c" stroke-width="3"/>
<text x="674.7" y="802.5" font-size="18.5" font-weight="bold" fill="#000" text-anchor="middle">1.6</text>
<text x="742.0600000000001" y="802.5" font-size="18.5" font-weight="bold" fill="#000" text-anchor="middle">2.0</text>
<text x="809.4200000000001" y="802.5" font-size="18.5" font-weight="bold" fill="#000" text-anchor="middle">2.4</text>
<text x="876.7800000000001" y="802.5" font-size="18.5" font-weight="bold" fill="#000" text-anchor="middle">2.8</text>
<text x="944.1400000000001" y="802.5" font-size="18.5" font-weight="bold" fill="#000" text-anchor="middle">3.2</text>
<text x="1011.5" y="802.5" font-size="18.5" font-weight="bold" fill="#000" text-anchor="middle">3.6</text>
<text x="651.5" y="754.9000000000001" font-size="20" font-weight="bold" fill="#d2000c" text-anchor="end">0.4</text>
<text x="651.5" y="691.95" font-size="20" font-weight="bold" fill="#d2000c" text-anchor="end">0.5</text>
<text x="651.5" y="629.0" font-size="20" font-weight="bold" fill="#d2000c" text-anchor="end">0.6</text>
<text x="651.5" y="566.05" font-size="20" font-weight="bold" fill="#d2000c" text-anchor="end">0.7</text>
<text x="651.5" y="503.09999999999997" font-size="20" font-weight="bold" fill="#d2000c" text-anchor="end">0.8</text>
<text x="1054.0" y="785.6999999999999" font-size="20" font-weight="bold" fill="#000c8c" text-anchor="start">1</text>
<text x="1054.0" y="740.6999999999999" font-size="20" font-weight="bold" fill="#000c8c" text-anchor="start">2</text>
<text x="1054.0" y="695.6999999999999" font-size="20" font-weight="bold" fill="#000c8c" text-anchor="start">3</text>
<text x="1054.0" y="650.6999999999999" font-size="20" font-weight="bold" fill="#000c8c" text-anchor="start">4</text>
<text x="1054.0" y="605.6999999999999" font-size="20" font-weight="bold" fill="#000c8c" text-anchor="start">5</text>
<text x="1054.0" y="560.6999999999999" font-size="20" font-weight="bold" fill="#000c8c" text-anchor="start">6</text>
<text x="1054.0" y="515.6999999999999" font-size="20" font-weight="bold" fill="#000c8c" text-anchor="start">7</text>
<text x="1054.0" y="470.69999999999993" font-size="20" font-weight="bold" fill="#000c8c" text-anchor="start">8</text>
<polyline points="676.5,766.7 728.3,710.7 776.6,647.6 828.1,603.1 878.6,590.6 933.5,559.4 980.6,515.1 1033.4,502.6" fill="none" stroke="#d2000c" stroke-width="2.5" stroke-linejoin="round" stroke-linecap="round"/>
<circle cx="676.5" cy="766.7" r="3.3" fill="#d2000c"/>
<circle cx="728.3" cy="710.7" r="3.3" fill="#d2000c"/>
<circle cx="776.6" cy="647.6" r="3.3" fill="#d2000c"/>
<circle cx="828.1" cy="603.1" r="3.3" fill="#d2000c"/>
<circle cx="878.6" cy="590.6" r="3.3" fill="#d2000c"/>
<circle cx="933.5" cy="559.4" r="3.3" fill="#d2000c"/>
<circle cx="980.6" cy="515.1" r="3.3" fill="#d2000c"/>
<circle cx="1033.4" cy="502.6" r="3.3" fill="#d2000c"/>
<polyline points="676.5,772.3 728.3,752.9 776.6,725.7 828.1,701.2 878.6,680.8 933.5,645.0 980.6,572.0 1033.4,498.2" fill="none" stroke="#000c8c" stroke-width="2.5" stroke-linejoin="round" stroke-linecap="round"/>
<circle cx="676.5" cy="772.3" r="3.3" fill="#000c8c"/>
<circle cx="728.3" cy="752.9" r="3.3" fill="#000c8c"/>
<circle cx="776.6" cy="725.7" r="3.3" fill="#000c8c"/>
<circle cx="828.1" cy="701.2" r="3.3" fill="#000c8c"/>
<circle cx="878.6" cy="680.8" r="3.3" fill="#000c8c"/>
<circle cx="933.5" cy="645.0" r="3.3" fill="#000c8c"/>
<circle cx="980.6" cy="572.0" r="3.3" fill="#000c8c"/>
<circle cx="1033.4" cy="498.2" r="3.3" fill="#000c8c"/>
<line x1="680.1" y1="498.9" x2="718.0" y2="498.9" stroke="#d2000c" stroke-width="2.9"/>
<circle cx="699.0" cy="498.9" r="3.0" fill="#d2000c"/>
<line x1="680.1" y1="531.8" x2="718.0" y2="531.8" stroke="#000c8c" stroke-width="2.9"/>
<circle cx="699.0" cy="531.8" r="3.0" fill="#000c8c"/>
<text x="721.3" y="505.2" font-size="25.5" font-weight="bold" fill="#000" text-anchor="start">Single-pulse energy</text>
<text x="721.3" y="536.5" font-size="25.5" font-weight="bold" fill="#000" text-anchor="start">Pulse peak power</text>
<text x="852.15" y="825.2" font-size="26.5" font-weight="bold" fill="#000" text-anchor="middle">Pump Power (W)</text>
<text x="617.5" y="622.8" font-size="26.9" font-weight="bold" fill="#000" text-anchor="middle" transform="rotate(-90 617.5 622.8)">Single-pulse energy (<tspan font-weight="normal">μ</tspan>J)</text>
<text x="1086.6" y="618.5" font-size="26.6" font-weight="bold" fill="#000c8c" text-anchor="middle" transform="rotate(-90 1086.6 618.5)">Pulse peak power (W)</text>
<text x="611.0" y="469.5" font-size="26" font-weight="bold" fill="#000" text-anchor="start">(d)</text>
</svg>
</body></html>
